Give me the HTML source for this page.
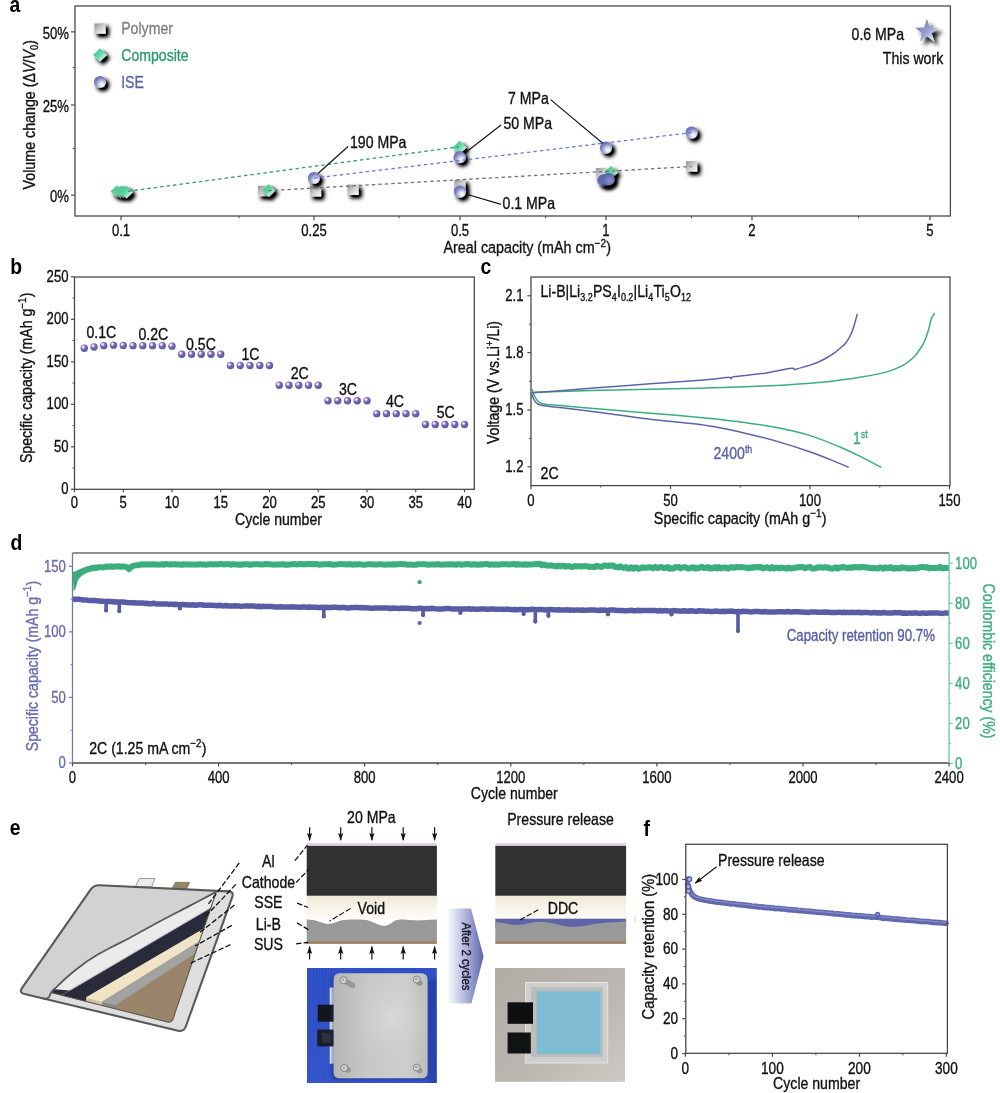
<!DOCTYPE html>
<html><head><meta charset="utf-8"><title>Figure</title>
<style>html,body{margin:0;padding:0;background:#fff;}body{width:1000px;height:1093px;overflow:hidden;}svg{display:block;will-change:transform;}text{font-family:"Liberation Sans",sans-serif;}</style></head>
<body>
<svg width="1000" height="1093" viewBox="0 0 1000 1093">
<rect x="0" y="0" width="1000" height="1093" fill="#ffffff"/>
<defs>
<filter id="sh" x="-60%" y="-60%" width="260%" height="260%">
  <feGaussianBlur in="SourceAlpha" stdDeviation="2.1"/>
  <feOffset dx="2.9" dy="3.1" result="b"/>
  <feComponentTransfer in="b" result="b2"><feFuncA type="linear" slope="1.35"/></feComponentTransfer>
  <feFlood flood-color="#000" flood-opacity="1"/>
  <feComposite in2="b2" operator="in" result="s"/>
  <feMerge><feMergeNode in="s"/><feMergeNode in="SourceGraphic"/></feMerge>
</filter>
<filter id="sh2" x="-60%" y="-60%" width="260%" height="260%">
  <feGaussianBlur in="SourceAlpha" stdDeviation="2.2"/>
  <feOffset dx="3.6" dy="3.6" result="b"/>
  <feFlood flood-color="#000" flood-opacity="0.95"/>
  <feComposite in2="b" operator="in" result="s"/>
  <feMerge><feMergeNode in="s"/><feMergeNode in="SourceGraphic"/></feMerge>
</filter>
<linearGradient id="gsq" x1="0" y1="0" x2="1" y2="1">
  <stop offset="0" stop-color="#8e8e8e"/><stop offset="0.45" stop-color="#c9c9c9"/><stop offset="1" stop-color="#ffffff"/>
</linearGradient>
<linearGradient id="gdi" x1="0.1" y1="0.1" x2="0.9" y2="0.9">
  <stop offset="0" stop-color="#35c48a"/><stop offset="0.5" stop-color="#6ad8aa"/><stop offset="1" stop-color="#f4fffa"/>
</linearGradient>
<radialGradient id="gci" cx="0.66" cy="0.72" r="0.75">
  <stop offset="0" stop-color="#ffffff"/><stop offset="0.25" stop-color="#dfe1f2"/><stop offset="0.7" stop-color="#8288c4"/><stop offset="1" stop-color="#666cb2"/>
</radialGradient>
<radialGradient id="gcd" cx="0.6" cy="0.65" r="0.8">
  <stop offset="0" stop-color="#8a8fca"/><stop offset="1" stop-color="#4f56a6"/>
</radialGradient>
<radialGradient id="gsp" cx="0.36" cy="0.34" r="0.72">
  <stop offset="0" stop-color="#ffffff"/><stop offset="0.12" stop-color="#fde6ff"/><stop offset="0.25" stop-color="#d4a0e8"/><stop offset="0.42" stop-color="#6f6db6"/><stop offset="1" stop-color="#51569e"/>
</radialGradient>
<linearGradient id="gstar" x1="0.1" y1="0.1" x2="0.9" y2="0.9">
  <stop offset="0" stop-color="#6b70b6"/><stop offset="0.55" stop-color="#9ea2d2"/><stop offset="1" stop-color="#f2f2fb"/>
</linearGradient>
<linearGradient id="garr" x1="0" y1="0" x2="1" y2="0">
  <stop offset="0" stop-color="#ffffff"/><stop offset="0.12" stop-color="#eceef7"/><stop offset="0.6" stop-color="#a3a8d2"/><stop offset="1" stop-color="#5b62ad"/>
</linearGradient>
<linearGradient id="gsse" x1="0" y1="0" x2="0" y2="1">
  <stop offset="0" stop-color="#efe9d6"/><stop offset="0.55" stop-color="#f8f5ea"/><stop offset="1" stop-color="#fdfcf8"/>
</linearGradient>
<linearGradient id="gplate" x1="0" y1="0" x2="1" y2="0">
  <stop offset="0" stop-color="#b4b6b3"/><stop offset="0.35" stop-color="#c6c8c5"/><stop offset="0.75" stop-color="#cdcfcc"/><stop offset="1" stop-color="#bcbebb"/>
</linearGradient>
<radialGradient id="gplate2" cx="0.62" cy="0.42" r="0.55">
  <stop offset="0" stop-color="#dcdedb" stop-opacity="0.75"/><stop offset="1" stop-color="#c4c6c3" stop-opacity="0"/>
</radialGradient>
<linearGradient id="gph1" x1="0" y1="0" x2="0" y2="1">
  <stop offset="0" stop-color="#2a48c0" stop-opacity="0.0"/><stop offset="1" stop-color="#4060d4" stop-opacity="0.35"/>
</linearGradient>
<filter id="bl1" x="-10%" y="-10%" width="120%" height="120%"><feGaussianBlur stdDeviation="1.6"/></filter>
<linearGradient id="gbg2" x1="0" y1="0" x2="1" y2="1">
  <stop offset="0" stop-color="#b1aca4"/><stop offset="0.6" stop-color="#bcb8b1"/><stop offset="1" stop-color="#cdcac5"/>
</linearGradient>
<marker id="ah" viewBox="0 0 14 10" refX="13" refY="5" markerWidth="8.2" markerHeight="5.6" markerUnits="userSpaceOnUse" orient="auto-start-reverse">
  <path d="M0,0.3 L14,5 L0,9.7 L2.6,5 z" fill="#111"/>
</marker>
</defs>
<rect x="75" y="6" width="875.4" height="210" fill="none" stroke="#4a4a4a" stroke-width="1.3"/>
<line x1="71.00" y1="31.90" x2="75.00" y2="31.90" stroke="#4a4a4a" stroke-width="1.2"/>
<text transform="translate(69.00,38.80) scale(0.8,1)" font-size="16.4" text-anchor="end" fill="#111" stroke="#111" stroke-width="0.35">50%</text>
<line x1="71.00" y1="105.00" x2="75.00" y2="105.00" stroke="#4a4a4a" stroke-width="1.2"/>
<text transform="translate(69.00,111.90) scale(0.8,1)" font-size="16.4" text-anchor="end" fill="#111" stroke="#111" stroke-width="0.35">25%</text>
<line x1="71.00" y1="195.10" x2="75.00" y2="195.10" stroke="#4a4a4a" stroke-width="1.2"/>
<text transform="translate(69.00,202.00) scale(0.8,1)" font-size="16.4" text-anchor="end" fill="#111" stroke="#111" stroke-width="0.35">0%</text>
<line x1="72.80" y1="67.50" x2="75.00" y2="67.50" stroke="#4a4a4a" stroke-width="1"/>
<line x1="72.80" y1="148.50" x2="75.00" y2="148.50" stroke="#4a4a4a" stroke-width="1"/>
<line x1="121.00" y1="216.00" x2="121.00" y2="220.20" stroke="#4a4a4a" stroke-width="1.2"/>
<text transform="translate(121.00,236.30) scale(0.8,1)" font-size="16.4" text-anchor="middle" fill="#111" stroke="#111" stroke-width="0.35">0.1</text>
<line x1="314.00" y1="216.00" x2="314.00" y2="220.20" stroke="#4a4a4a" stroke-width="1.2"/>
<text transform="translate(314.00,236.30) scale(0.8,1)" font-size="16.4" text-anchor="middle" fill="#111" stroke="#111" stroke-width="0.35">0.25</text>
<line x1="460.00" y1="216.00" x2="460.00" y2="220.20" stroke="#4a4a4a" stroke-width="1.2"/>
<text transform="translate(460.00,236.30) scale(0.8,1)" font-size="16.4" text-anchor="middle" fill="#111" stroke="#111" stroke-width="0.35">0.5</text>
<line x1="606.00" y1="216.00" x2="606.00" y2="220.20" stroke="#4a4a4a" stroke-width="1.2"/>
<text transform="translate(606.00,236.30) scale(0.8,1)" font-size="16.4" text-anchor="middle" fill="#111" stroke="#111" stroke-width="0.35">1</text>
<line x1="752.00" y1="216.00" x2="752.00" y2="220.20" stroke="#4a4a4a" stroke-width="1.2"/>
<text transform="translate(752.00,236.30) scale(0.8,1)" font-size="16.4" text-anchor="middle" fill="#111" stroke="#111" stroke-width="0.35">2</text>
<line x1="930.00" y1="216.00" x2="930.00" y2="220.20" stroke="#4a4a4a" stroke-width="1.2"/>
<text transform="translate(930.00,236.30) scale(0.8,1)" font-size="16.4" text-anchor="middle" fill="#111" stroke="#111" stroke-width="0.35">5</text>
<line x1="239.00" y1="216.00" x2="239.00" y2="218.20" stroke="#4a4a4a" stroke-width="1"/>
<line x1="399.00" y1="216.00" x2="399.00" y2="218.20" stroke="#4a4a4a" stroke-width="1"/>
<line x1="545.60" y1="216.00" x2="545.60" y2="218.20" stroke="#4a4a4a" stroke-width="1"/>
<line x1="691.40" y1="216.00" x2="691.40" y2="218.20" stroke="#4a4a4a" stroke-width="1"/>
<line x1="858.60" y1="216.00" x2="858.60" y2="218.20" stroke="#4a4a4a" stroke-width="1"/>
<text transform="translate(611.00,253.00) scale(0.868,1)" font-size="16.5" text-anchor="end" fill="#111" stroke="#111" stroke-width="0.35">Areal capacity (mAh cm<tspan font-size="11.5" dy="-6.4">−2</tspan><tspan font-size="1" dy="6.4"> </tspan>)</text>
<text transform="translate(34.70,114.70) rotate(-90) scale(0.865,1)" font-size="16.5" text-anchor="middle" fill="#111" stroke="#111" stroke-width="0.35">Volume change (Δ<tspan font-style="italic">V</tspan>/<tspan font-style="italic">V</tspan><tspan font-size="10.5" dy="3.5">0</tspan><tspan font-size="1" dy="-3.5"> </tspan>)</text>
<rect x="94.40" y="23.40" width="11.2" height="10.4" fill="url(#gsq)" filter="url(#sh)"/>
<path d="M93.00,54.90 L100.00,48.20 L107.00,54.90 L100.00,61.60 z" fill="url(#gdi)" filter="url(#sh)"/>
<circle cx="100.00" cy="82.00" r="6.1" fill="url(#gci)" filter="url(#sh)"/>
<text transform="translate(121.20,34.00) scale(0.855,1)" font-size="16.5" text-anchor="start" fill="#7f7f7f" stroke="#7f7f7f" stroke-width="0.35">Polymer</text>
<text transform="translate(121.20,60.60) scale(0.855,1)" font-size="16.5" text-anchor="start" fill="#2f9a6b" stroke="#2f9a6b" stroke-width="0.35">Composite</text>
<text transform="translate(121.20,87.60) scale(0.855,1)" font-size="16.5" text-anchor="start" fill="#5d63a8" stroke="#5d63a8" stroke-width="0.35">ISE</text>
<path d="M110.50,191.40 L117.00,185.20 L123.50,191.40 L117.00,197.60 z" fill="url(#gdi)" filter="url(#sh)"/>
<path d="M114.00,192.00 L120.50,185.80 L127.00,192.00 L120.50,198.20 z" fill="url(#gdi)" filter="url(#sh)"/>
<path d="M117.00,191.70 L123.50,185.50 L130.00,191.70 L123.50,197.90 z" fill="url(#gdi)" filter="url(#sh)"/>
<path d="M120.00,192.20 L126.50,186.00 L133.00,192.20 L126.50,198.40 z" fill="url(#gdi)" filter="url(#sh)"/>
<rect x="257.90" y="185.80" width="11.2" height="10.4" fill="url(#gsq)" filter="url(#sh)"/>
<path d="M262.00,190.60 L268.80,184.20 L275.60,190.60 L268.80,197.00 z" fill="url(#gdi)" filter="url(#sh)"/>
<rect x="309.90" y="186.10" width="11.2" height="10.4" fill="url(#gsq)" filter="url(#sh)"/>
<rect x="347.40" y="184.60" width="11.2" height="10.4" fill="url(#gsq)" filter="url(#sh)"/>
<circle cx="314.00" cy="178.00" r="6.1" fill="url(#gci)" filter="url(#sh)"/>
<path d="M452.60,147.40 L459.60,140.70 L466.60,147.40 L459.60,154.10 z" fill="url(#gdi)" filter="url(#sh)"/>
<circle cx="459.60" cy="157.20" r="6.1" fill="url(#gci)" filter="url(#sh)"/>
<rect x="454.40" y="179.80" width="11.2" height="10.4" fill="url(#gsq)" filter="url(#sh)"/>
<circle cx="460.00" cy="191.60" r="6.1" fill="url(#gci)" filter="url(#sh)"/>
<circle cx="606.00" cy="147.60" r="6.1" fill="url(#gci)" filter="url(#sh)"/>
<circle cx="691.60" cy="132.60" r="6.1" fill="url(#gci)" filter="url(#sh)"/>
<rect x="686.00" y="161.20" width="11.2" height="10.4" fill="url(#gsq)" filter="url(#sh)"/>
<rect x="595.90" y="168.00" width="11.2" height="10.4" fill="url(#gsq)" filter="url(#sh)"/>
<path d="M604.00,172.60 L611.00,165.90 L618.00,172.60 L611.00,179.30 z" fill="url(#gdi)" filter="url(#sh)"/>
<circle cx="603.50" cy="180.30" r="6.1" fill="url(#gcd)" filter="url(#sh)"/>
<circle cx="606.50" cy="179.80" r="6.1" fill="url(#gcd)" filter="url(#sh)"/>
<circle cx="608.50" cy="179.20" r="6.1" fill="url(#gcd)" filter="url(#sh)"/>
<line x1="128.00" y1="191.30" x2="459.00" y2="146.80" stroke="#2f9a6b" stroke-width="1.3" stroke-dasharray="3.4 3.1"/>
<line x1="314.00" y1="178.10" x2="691.60" y2="132.60" stroke="#6f74e0" stroke-width="1.3" stroke-dasharray="3.4 3.1"/>
<line x1="268.00" y1="190.70" x2="691.60" y2="166.50" stroke="#707070" stroke-width="1.3" stroke-dasharray="3.4 3.1"/>
<text transform="translate(350.00,148.40) scale(0.855,1)" font-size="16.5" text-anchor="start" fill="#111" stroke="#111" stroke-width="0.35">190 MPa</text>
<line x1="348.00" y1="146.50" x2="318.00" y2="173.50" stroke="#111" stroke-width="1.1"/>
<text transform="translate(503.40,128.80) scale(0.855,1)" font-size="16.5" text-anchor="start" fill="#111" stroke="#111" stroke-width="0.35">50 MPa</text>
<line x1="501.00" y1="125.00" x2="465.00" y2="153.00" stroke="#111" stroke-width="1.1"/>
<text transform="translate(508.00,103.80) scale(0.855,1)" font-size="16.5" text-anchor="start" fill="#111" stroke="#111" stroke-width="0.35">7 MPa</text>
<line x1="550.60" y1="99.60" x2="603.00" y2="143.50" stroke="#111" stroke-width="1.1"/>
<text transform="translate(502.60,209.20) scale(0.855,1)" font-size="16.5" text-anchor="start" fill="#111" stroke="#111" stroke-width="0.35">0.1 MPa</text>
<line x1="501.00" y1="204.40" x2="466.00" y2="194.00" stroke="#111" stroke-width="1.1"/>
<polygon points="927.00,19.00 929.94,27.55 938.98,27.71 931.76,33.15 934.41,41.79 927.00,36.60 919.59,41.79 922.24,33.15 915.02,27.71 924.06,27.55" fill="url(#gstar)" filter="url(#sh2)"/>
<text transform="translate(851.60,39.80) scale(0.855,1)" font-size="16.5" text-anchor="start" fill="#111" stroke="#111" stroke-width="0.35">0.6 MPa</text>
<text transform="translate(943.20,63.80) scale(0.855,1)" font-size="16.5" text-anchor="end" fill="#111" stroke="#111" stroke-width="0.35">This work</text>
<text transform="translate(9.40,12.30) scale(0.86,1)" font-size="22.5" text-anchor="start" fill="#000" stroke="#000" stroke-width="0" font-weight="bold">a</text>
<rect x="74.5" y="277" width="399.8" height="212.3" fill="none" stroke="#4a4a4a" stroke-width="1.3"/>
<line x1="70.90" y1="489.30" x2="74.50" y2="489.30" stroke="#4a4a4a" stroke-width="1.2"/>
<text transform="translate(68.50,494.30) scale(0.8,1)" font-size="16.4" text-anchor="end" fill="#111" stroke="#111" stroke-width="0.35">0</text>
<line x1="70.90" y1="446.80" x2="74.50" y2="446.80" stroke="#4a4a4a" stroke-width="1.2"/>
<text transform="translate(68.50,451.80) scale(0.8,1)" font-size="16.4" text-anchor="end" fill="#111" stroke="#111" stroke-width="0.35">50</text>
<line x1="70.90" y1="404.30" x2="74.50" y2="404.30" stroke="#4a4a4a" stroke-width="1.2"/>
<text transform="translate(68.50,409.30) scale(0.8,1)" font-size="16.4" text-anchor="end" fill="#111" stroke="#111" stroke-width="0.35">100</text>
<line x1="70.90" y1="361.80" x2="74.50" y2="361.80" stroke="#4a4a4a" stroke-width="1.2"/>
<text transform="translate(68.50,366.80) scale(0.8,1)" font-size="16.4" text-anchor="end" fill="#111" stroke="#111" stroke-width="0.35">150</text>
<line x1="70.90" y1="319.30" x2="74.50" y2="319.30" stroke="#4a4a4a" stroke-width="1.2"/>
<text transform="translate(68.50,324.30) scale(0.8,1)" font-size="16.4" text-anchor="end" fill="#111" stroke="#111" stroke-width="0.35">200</text>
<line x1="70.90" y1="276.80" x2="74.50" y2="276.80" stroke="#4a4a4a" stroke-width="1.2"/>
<text transform="translate(68.50,281.80) scale(0.8,1)" font-size="16.4" text-anchor="end" fill="#111" stroke="#111" stroke-width="0.35">250</text>
<line x1="72.50" y1="468.05" x2="74.50" y2="468.05" stroke="#4a4a4a" stroke-width="1"/>
<line x1="72.50" y1="425.55" x2="74.50" y2="425.55" stroke="#4a4a4a" stroke-width="1"/>
<line x1="72.50" y1="383.05" x2="74.50" y2="383.05" stroke="#4a4a4a" stroke-width="1"/>
<line x1="72.50" y1="340.55" x2="74.50" y2="340.55" stroke="#4a4a4a" stroke-width="1"/>
<line x1="72.50" y1="298.05" x2="74.50" y2="298.05" stroke="#4a4a4a" stroke-width="1"/>
<line x1="74.50" y1="489.30" x2="74.50" y2="492.30" stroke="#4a4a4a" stroke-width="1.2"/>
<text transform="translate(74.50,507.80) scale(0.8,1)" font-size="16.4" text-anchor="middle" fill="#111" stroke="#111" stroke-width="0.35">0</text>
<line x1="123.25" y1="489.30" x2="123.25" y2="492.30" stroke="#4a4a4a" stroke-width="1.2"/>
<text transform="translate(123.25,507.80) scale(0.8,1)" font-size="16.4" text-anchor="middle" fill="#111" stroke="#111" stroke-width="0.35">5</text>
<line x1="172.00" y1="489.30" x2="172.00" y2="492.30" stroke="#4a4a4a" stroke-width="1.2"/>
<text transform="translate(172.00,507.80) scale(0.8,1)" font-size="16.4" text-anchor="middle" fill="#111" stroke="#111" stroke-width="0.35">10</text>
<line x1="220.75" y1="489.30" x2="220.75" y2="492.30" stroke="#4a4a4a" stroke-width="1.2"/>
<text transform="translate(220.75,507.80) scale(0.8,1)" font-size="16.4" text-anchor="middle" fill="#111" stroke="#111" stroke-width="0.35">15</text>
<line x1="269.50" y1="489.30" x2="269.50" y2="492.30" stroke="#4a4a4a" stroke-width="1.2"/>
<text transform="translate(269.50,507.80) scale(0.8,1)" font-size="16.4" text-anchor="middle" fill="#111" stroke="#111" stroke-width="0.35">20</text>
<line x1="318.25" y1="489.30" x2="318.25" y2="492.30" stroke="#4a4a4a" stroke-width="1.2"/>
<text transform="translate(318.25,507.80) scale(0.8,1)" font-size="16.4" text-anchor="middle" fill="#111" stroke="#111" stroke-width="0.35">25</text>
<line x1="367.00" y1="489.30" x2="367.00" y2="492.30" stroke="#4a4a4a" stroke-width="1.2"/>
<text transform="translate(367.00,507.80) scale(0.8,1)" font-size="16.4" text-anchor="middle" fill="#111" stroke="#111" stroke-width="0.35">30</text>
<line x1="415.75" y1="489.30" x2="415.75" y2="492.30" stroke="#4a4a4a" stroke-width="1.2"/>
<text transform="translate(415.75,507.80) scale(0.8,1)" font-size="16.4" text-anchor="middle" fill="#111" stroke="#111" stroke-width="0.35">35</text>
<line x1="464.50" y1="489.30" x2="464.50" y2="492.30" stroke="#4a4a4a" stroke-width="1.2"/>
<text transform="translate(464.50,507.80) scale(0.8,1)" font-size="16.4" text-anchor="middle" fill="#111" stroke="#111" stroke-width="0.35">40</text>
<text transform="translate(278.50,525.00) scale(0.855,1)" font-size="16.5" text-anchor="middle" fill="#111" stroke="#111" stroke-width="0.35">Cycle number</text>
<text transform="translate(32.20,377.80) rotate(-90) scale(0.855,1)" font-size="16.5" text-anchor="middle" fill="#111" stroke="#111" stroke-width="0.35">Specific capacity (mAh g<tspan font-size="11.5" dy="-6.4">−1</tspan><tspan font-size="1" dy="6.4"> </tspan>)</text>
<circle cx="84.25" cy="348.20" r="3.7" fill="url(#gsp)"/>
<circle cx="94.00" cy="346.93" r="3.7" fill="url(#gsp)"/>
<circle cx="103.75" cy="345.65" r="3.7" fill="url(#gsp)"/>
<circle cx="113.50" cy="345.14" r="3.7" fill="url(#gsp)"/>
<circle cx="123.25" cy="345.48" r="3.7" fill="url(#gsp)"/>
<circle cx="133.00" cy="345.65" r="3.7" fill="url(#gsp)"/>
<circle cx="142.75" cy="345.65" r="3.7" fill="url(#gsp)"/>
<circle cx="152.50" cy="345.65" r="3.7" fill="url(#gsp)"/>
<circle cx="162.25" cy="345.65" r="3.7" fill="url(#gsp)"/>
<circle cx="172.00" cy="346.16" r="3.7" fill="url(#gsp)"/>
<circle cx="181.75" cy="354.32" r="3.7" fill="url(#gsp)"/>
<circle cx="191.50" cy="354.32" r="3.7" fill="url(#gsp)"/>
<circle cx="201.25" cy="354.32" r="3.7" fill="url(#gsp)"/>
<circle cx="211.00" cy="354.32" r="3.7" fill="url(#gsp)"/>
<circle cx="220.75" cy="354.32" r="3.7" fill="url(#gsp)"/>
<circle cx="230.50" cy="365.54" r="3.7" fill="url(#gsp)"/>
<circle cx="240.25" cy="365.54" r="3.7" fill="url(#gsp)"/>
<circle cx="250.00" cy="365.54" r="3.7" fill="url(#gsp)"/>
<circle cx="259.75" cy="365.54" r="3.7" fill="url(#gsp)"/>
<circle cx="269.50" cy="365.54" r="3.7" fill="url(#gsp)"/>
<circle cx="279.25" cy="385.26" r="3.7" fill="url(#gsp)"/>
<circle cx="289.00" cy="385.26" r="3.7" fill="url(#gsp)"/>
<circle cx="298.75" cy="385.26" r="3.7" fill="url(#gsp)"/>
<circle cx="308.50" cy="385.26" r="3.7" fill="url(#gsp)"/>
<circle cx="318.25" cy="385.26" r="3.7" fill="url(#gsp)"/>
<circle cx="328.00" cy="400.73" r="3.7" fill="url(#gsp)"/>
<circle cx="337.75" cy="400.73" r="3.7" fill="url(#gsp)"/>
<circle cx="347.50" cy="400.73" r="3.7" fill="url(#gsp)"/>
<circle cx="357.25" cy="400.73" r="3.7" fill="url(#gsp)"/>
<circle cx="367.00" cy="400.73" r="3.7" fill="url(#gsp)"/>
<circle cx="376.75" cy="413.65" r="3.7" fill="url(#gsp)"/>
<circle cx="386.50" cy="413.65" r="3.7" fill="url(#gsp)"/>
<circle cx="396.25" cy="413.65" r="3.7" fill="url(#gsp)"/>
<circle cx="406.00" cy="413.65" r="3.7" fill="url(#gsp)"/>
<circle cx="415.75" cy="413.65" r="3.7" fill="url(#gsp)"/>
<circle cx="425.50" cy="424.53" r="3.7" fill="url(#gsp)"/>
<circle cx="435.25" cy="424.53" r="3.7" fill="url(#gsp)"/>
<circle cx="445.00" cy="424.53" r="3.7" fill="url(#gsp)"/>
<circle cx="454.75" cy="424.53" r="3.7" fill="url(#gsp)"/>
<circle cx="464.50" cy="424.53" r="3.7" fill="url(#gsp)"/>
<text transform="translate(101.40,338.00) scale(0.855,1)" font-size="16.5" text-anchor="middle" fill="#111" stroke="#111" stroke-width="0.35">0.1C</text>
<text transform="translate(153.40,340.00) scale(0.855,1)" font-size="16.5" text-anchor="middle" fill="#111" stroke="#111" stroke-width="0.35">0.2C</text>
<text transform="translate(201.00,349.50) scale(0.855,1)" font-size="16.5" text-anchor="middle" fill="#111" stroke="#111" stroke-width="0.35">0.5C</text>
<text transform="translate(250.40,359.50) scale(0.855,1)" font-size="16.5" text-anchor="middle" fill="#111" stroke="#111" stroke-width="0.35">1C</text>
<text transform="translate(299.80,379.30) scale(0.855,1)" font-size="16.5" text-anchor="middle" fill="#111" stroke="#111" stroke-width="0.35">2C</text>
<text transform="translate(348.00,395.00) scale(0.855,1)" font-size="16.5" text-anchor="middle" fill="#111" stroke="#111" stroke-width="0.35">3C</text>
<text transform="translate(395.00,407.00) scale(0.855,1)" font-size="16.5" text-anchor="middle" fill="#111" stroke="#111" stroke-width="0.35">4C</text>
<text transform="translate(445.80,418.30) scale(0.855,1)" font-size="16.5" text-anchor="middle" fill="#111" stroke="#111" stroke-width="0.35">5C</text>
<text transform="translate(10.20,274.40) scale(0.86,1)" font-size="22.5" text-anchor="start" fill="#000" stroke="#000" stroke-width="0" font-weight="bold">b</text>
<rect x="531" y="277" width="419" height="208.60000000000002" fill="none" stroke="#4a4a4a" stroke-width="1.3"/>
<line x1="527.40" y1="295.80" x2="531.00" y2="295.80" stroke="#4a4a4a" stroke-width="1.2"/>
<text transform="translate(523.50,301.10) scale(0.8,1)" font-size="16.4" text-anchor="end" fill="#111" stroke="#111" stroke-width="0.35">2.1</text>
<line x1="527.40" y1="352.60" x2="531.00" y2="352.60" stroke="#4a4a4a" stroke-width="1.2"/>
<text transform="translate(523.50,357.90) scale(0.8,1)" font-size="16.4" text-anchor="end" fill="#111" stroke="#111" stroke-width="0.35">1.8</text>
<line x1="527.40" y1="410.00" x2="531.00" y2="410.00" stroke="#4a4a4a" stroke-width="1.2"/>
<text transform="translate(523.50,415.30) scale(0.8,1)" font-size="16.4" text-anchor="end" fill="#111" stroke="#111" stroke-width="0.35">1.5</text>
<line x1="527.40" y1="466.80" x2="531.00" y2="466.80" stroke="#4a4a4a" stroke-width="1.2"/>
<text transform="translate(523.50,472.10) scale(0.8,1)" font-size="16.4" text-anchor="end" fill="#111" stroke="#111" stroke-width="0.35">1.2</text>
<line x1="529.00" y1="324.20" x2="531.00" y2="324.20" stroke="#4a4a4a" stroke-width="1"/>
<line x1="529.00" y1="381.30" x2="531.00" y2="381.30" stroke="#4a4a4a" stroke-width="1"/>
<line x1="529.00" y1="438.40" x2="531.00" y2="438.40" stroke="#4a4a4a" stroke-width="1"/>
<line x1="531.00" y1="485.60" x2="531.00" y2="489.20" stroke="#4a4a4a" stroke-width="1.2"/>
<text transform="translate(531.00,506.40) scale(0.8,1)" font-size="16.4" text-anchor="middle" fill="#111" stroke="#111" stroke-width="0.35">0</text>
<line x1="670.50" y1="485.60" x2="670.50" y2="489.20" stroke="#4a4a4a" stroke-width="1.2"/>
<text transform="translate(670.50,506.40) scale(0.8,1)" font-size="16.4" text-anchor="middle" fill="#111" stroke="#111" stroke-width="0.35">50</text>
<line x1="810.00" y1="485.60" x2="810.00" y2="489.20" stroke="#4a4a4a" stroke-width="1.2"/>
<text transform="translate(810.00,506.40) scale(0.8,1)" font-size="16.4" text-anchor="middle" fill="#111" stroke="#111" stroke-width="0.35">100</text>
<line x1="949.50" y1="485.60" x2="949.50" y2="489.20" stroke="#4a4a4a" stroke-width="1.2"/>
<text transform="translate(949.50,506.40) scale(0.8,1)" font-size="16.4" text-anchor="middle" fill="#111" stroke="#111" stroke-width="0.35">150</text>
<line x1="600.75" y1="485.60" x2="600.75" y2="487.60" stroke="#4a4a4a" stroke-width="1"/>
<line x1="740.25" y1="485.60" x2="740.25" y2="487.60" stroke="#4a4a4a" stroke-width="1"/>
<line x1="879.75" y1="485.60" x2="879.75" y2="487.60" stroke="#4a4a4a" stroke-width="1"/>
<text transform="translate(740.20,523.80) scale(0.866,1)" font-size="16.5" text-anchor="middle" fill="#111" stroke="#111" stroke-width="0.35">Specific capacity (mAh g<tspan font-size="11.5" dy="-6.4">−1</tspan><tspan font-size="1" dy="6.4"> </tspan>)</text>
<text transform="translate(499.30,382.50) rotate(-90) scale(0.855,1)" font-size="16.5" text-anchor="middle" fill="#111" stroke="#111" stroke-width="0.35">Voltage (V vs.Li<tspan font-size="10.5" dy="-6">+</tspan><tspan font-size="1" dy="6"> </tspan>/Li)</text>
<text transform="translate(540.50,297.20) scale(0.855,1)" font-size="16.5" text-anchor="start" fill="#111" stroke="#111" stroke-width="0.35">Li-B|Li<tspan font-size="10.5" dy="3.5">3.2</tspan><tspan font-size="1" dy="-3.5"> </tspan>PS<tspan font-size="10.5" dy="3.5">4</tspan><tspan font-size="1" dy="-3.5"> </tspan>I<tspan font-size="10.5" dy="3.5">0.2</tspan><tspan font-size="1" dy="-3.5"> </tspan>|Li<tspan font-size="10.5" dy="3.5">4</tspan><tspan font-size="1" dy="-3.5"> </tspan>Ti<tspan font-size="10.5" dy="3.5">5</tspan><tspan font-size="1" dy="-3.5"> </tspan>O<tspan font-size="10.5" dy="3.5">12</tspan><tspan font-size="1" dy="-3.5"> </tspan></text>
<text transform="translate(540.60,478.80) scale(0.855,1)" font-size="16.5" text-anchor="start" fill="#111" stroke="#111" stroke-width="0.35">2C</text>
<path d="M533.5,392.3 C537.3,392.2 550.5,391.7 560.0,391.4 C569.5,391.1 587.1,390.6 600.0,390.3 C612.9,390.0 635.7,389.5 650.0,389.2 C664.3,388.9 687.3,388.6 700.0,388.3 C712.7,388.0 726.7,387.4 739.0,386.9 C751.3,386.4 772.8,385.7 785.8,384.9 C798.8,384.1 819.2,382.6 830.0,381.5 C840.8,380.4 853.0,378.5 861.2,377.1 C869.4,375.7 881.4,373.5 887.2,371.9 C893.0,370.3 898.2,367.8 901.5,366.2 C904.8,364.6 908.0,362.1 910.0,360.5 C912.0,358.9 914.4,356.6 915.8,355.0 C917.2,353.4 918.9,350.7 920.0,349.0 C921.1,347.3 922.7,345.2 923.6,343.3 C924.5,341.4 925.8,338.0 926.5,336.0 C927.2,334.0 928.1,331.5 928.8,329.0 C929.5,326.5 930.6,320.9 931.4,318.6 C932.2,316.3 934.1,314.0 934.5,313.2 " fill="none" stroke="#3aae7c" stroke-width="1.5" stroke-linejoin="round"/>
<path d="M531.3,388.0 C531.5,388.6 532.5,391.2 533.0,392.5 C533.5,393.8 534.4,395.8 535.0,397.0 C535.6,398.2 536.7,399.9 537.5,400.8 C538.3,401.7 539.4,402.5 540.5,403.0 C541.6,403.5 542.2,403.8 545.0,404.2 C547.8,404.6 552.1,404.9 560.0,405.6 C567.9,406.3 587.1,407.9 600.0,409.0 C612.9,410.1 635.7,412.0 650.0,413.2 C664.3,414.4 687.3,416.2 700.0,417.4 C712.7,418.6 727.9,420.3 739.0,421.8 C750.1,423.3 767.6,425.8 778.0,427.8 C788.4,429.8 802.9,433.3 811.8,436.1 C820.7,438.9 833.3,444.3 840.4,447.3 C847.5,450.3 855.4,454.0 861.2,456.9 C867.0,459.8 878.3,465.8 881.2,467.3 " fill="none" stroke="#3aae7c" stroke-width="1.5" stroke-linejoin="round"/>
<path d="M532.5,392.8 C533.6,392.7 530.4,392.9 540.0,392.2 C549.6,391.5 584.3,388.8 600.0,387.6 C615.7,386.4 635.7,384.9 650.0,383.8 C664.3,382.7 689.1,381.1 700.0,380.2 C710.9,379.3 721.8,378.0 726.0,377.6 C730.2,377.2 728.8,377.2 729.5,377.4 C730.2,377.6 730.6,378.8 731.2,378.7 C731.8,378.6 729.0,377.6 733.8,376.8 C738.6,376.0 756.8,374.4 765.0,373.2 C773.2,372.0 786.7,368.8 791.0,368.3 C795.3,367.8 793.9,369.6 794.9,369.6 C795.9,369.6 796.0,369.2 798.0,368.6 C800.0,368.0 806.1,366.4 809.2,365.4 C812.3,364.4 816.9,362.7 819.6,361.5 C822.3,360.3 825.8,358.3 828.0,357.0 C830.2,355.7 833.3,353.8 835.2,352.4 C837.1,351.0 839.5,348.8 841.0,347.5 C842.5,346.2 844.4,344.8 845.6,343.3 C846.8,341.8 848.6,338.7 849.5,337.0 C850.4,335.3 851.4,333.5 852.1,331.6 C852.8,329.7 853.9,326.5 854.6,324.0 C855.3,321.5 856.9,315.4 857.3,314.0 " fill="none" stroke="#5d63a8" stroke-width="1.5" stroke-linejoin="round"/>
<path d="M531.3,392.0 C531.5,392.6 532.0,395.3 532.5,396.5 C533.0,397.7 533.9,399.6 534.5,400.6 C535.1,401.6 536.1,402.8 537.0,403.4 C537.9,404.0 539.2,404.6 540.5,405.0 C541.8,405.4 543.2,405.6 546.0,406.0 C548.8,406.4 552.3,406.7 560.0,407.6 C567.7,408.5 587.1,410.9 600.0,412.6 C612.9,414.3 635.7,417.5 650.0,419.2 C664.3,420.9 689.3,423.2 700.0,424.6 C710.7,426.0 719.4,427.8 725.0,428.8 C730.6,429.8 731.4,429.9 739.0,431.7 C746.6,433.5 767.6,438.6 778.0,441.6 C788.4,444.6 803.6,449.6 811.8,452.5 C820.0,455.4 829.9,459.5 835.2,461.6 C840.5,463.7 846.8,466.5 848.7,467.3 " fill="none" stroke="#5d63a8" stroke-width="1.5" stroke-linejoin="round"/>
<text transform="translate(713.50,458.60) scale(0.855,1)" font-size="16.5" text-anchor="start" fill="#5d63a8" stroke="#5d63a8" stroke-width="0.35">2400<tspan font-size="10.5" dy="-6">th</tspan><tspan font-size="1" dy="6"> </tspan></text>
<text transform="translate(853.00,443.50) scale(0.855,1)" font-size="16.5" text-anchor="start" fill="#3aae7c" stroke="#3aae7c" stroke-width="0.35">1<tspan font-size="10.5" dy="-6">st</tspan><tspan font-size="1" dy="6"> </tspan></text>
<text transform="translate(480.40,273.80) scale(0.86,1)" font-size="22.5" text-anchor="start" fill="#000" stroke="#000" stroke-width="0" font-weight="bold">c</text>
<clipPath id="cpd"><rect x="72.5" y="553" width="876.6" height="210"/></clipPath><g clip-path="url(#cpd)">
<path d="M72.8,572 L73.5,591 L75.5,589 L78,580 L82,575 L86,572 L96,568 L96,564.5 L88,566 L80,569 L75,571.5 z" fill="#3aae7c"/>
<path d="M72.5,581.9 L74.3,579.0 L76.2,577.2 L78.0,574.9 L79.8,573.7 L81.6,572.3 L83.5,571.1 L85.3,570.5 L87.1,569.5 L88.9,569.2 L90.8,568.5 L92.6,568.1 L94.4,568.0 L96.2,568.0 L98.1,567.3 L99.9,567.2 L101.7,567.3 L103.5,567.4 L105.4,566.7 L107.2,566.5 L109.0,566.9 L110.9,566.3 L112.7,566.9 L114.5,566.5 L116.3,566.4 L118.2,566.3 L120.0,566.5 L121.8,566.8 L123.6,566.4 L125.5,566.7 L127.3,567.4 L129.1,569.1 L130.9,567.4 L132.8,565.9 L134.6,565.6 L136.4,565.3 L138.2,565.3 L140.1,564.7 L141.9,564.3 L143.7,564.5 L145.6,564.4 L147.4,564.3 L149.2,564.6 L151.0,564.5 L152.9,564.2 L154.7,564.5 L156.5,564.4 L158.3,564.7 L160.2,564.6 L162.0,564.3 L163.8,564.7 L165.6,564.1 L167.5,564.3 L169.3,564.6 L171.1,564.2 L172.9,564.4 L174.8,564.1 L176.6,564.5 L178.4,564.6 L180.2,564.5 L182.1,564.7 L183.9,564.3 L185.7,564.5 L187.6,564.5 L189.4,564.5 L191.2,564.4 L193.0,564.6 L194.9,564.7 L196.7,564.4 L198.5,564.5 L200.3,564.1 L202.2,564.5 L204.0,564.5 L205.8,564.7 L207.6,564.6 L209.5,564.2 L211.3,564.3 L213.1,564.5 L214.9,564.1 L216.8,564.4 L218.6,564.2 L220.4,564.1 L222.3,564.1 L224.1,564.6 L225.9,564.1 L227.7,564.2 L229.6,564.3 L231.4,564.7 L233.2,564.1 L235.0,564.4 L236.9,564.4 L238.7,564.7 L240.5,564.6 L242.3,564.7 L244.2,564.2 L246.0,564.3 L247.8,564.3 L249.6,564.7 L251.5,564.7 L253.3,564.2 L255.1,564.2 L257.0,564.2 L258.8,564.2 L260.6,564.4 L262.4,564.5 L264.3,564.2 L266.1,564.1 L267.9,564.3 L269.7,564.3 L271.6,564.4 L273.4,564.7 L275.2,564.5 L277.0,564.4 L278.9,564.5 L280.7,564.5 L282.5,564.1 L284.3,564.7 L286.2,564.6 L288.0,564.7 L289.8,564.6 L291.6,564.3 L293.5,564.3 L295.3,564.1 L297.1,564.5 L299.0,564.1 L300.8,564.1 L302.6,564.2 L304.4,564.2 L306.3,564.3 L308.1,564.1 L309.9,564.1 L311.7,564.2 L313.6,564.1 L315.4,564.3 L317.2,564.1 L319.0,564.7 L320.9,564.5 L322.7,564.2 L324.5,564.2 L326.3,564.3 L328.2,564.3 L330.0,564.1 L331.8,564.6 L333.7,564.7 L335.5,564.4 L337.3,564.4 L339.1,564.1 L341.0,564.1 L342.8,564.3 L344.6,564.2 L346.4,564.6 L348.3,564.2 L350.1,564.1 L351.9,564.7 L353.7,564.4 L355.6,564.2 L357.4,564.4 L359.2,564.1 L361.0,564.4 L362.9,564.7 L364.7,564.7 L366.5,564.5 L368.4,564.2 L370.2,564.3 L372.0,564.2 L373.8,564.6 L375.7,564.4 L377.5,564.6 L379.3,564.3 L381.1,564.2 L383.0,564.6 L384.8,564.7 L386.6,564.6 L388.4,564.6 L390.3,564.6 L392.1,564.6 L393.9,564.2 L395.7,564.4 L397.6,564.3 L399.4,564.1 L401.2,564.1 L403.1,564.2 L404.9,564.2 L406.7,564.5 L408.5,564.7 L410.4,564.4 L412.2,564.7 L414.0,564.7 L415.8,564.7 L417.7,564.3 L419.5,564.2 L421.3,564.2 L423.1,564.2 L425.0,564.2 L426.8,564.5 L428.6,564.7 L430.4,564.6 L432.3,564.4 L434.1,564.5 L435.9,564.6 L437.8,564.1 L439.6,564.5 L441.4,564.7 L443.2,564.6 L445.1,564.6 L446.9,564.4 L448.7,564.2 L450.5,564.6 L452.4,564.3 L454.2,564.6 L456.0,564.7 L457.8,564.3 L459.7,564.3 L461.5,564.7 L463.3,564.6 L465.1,564.2 L467.0,564.1 L468.8,564.2 L470.6,564.7 L472.4,564.6 L474.3,564.2 L476.1,564.6 L477.9,564.7 L479.8,564.5 L481.6,564.3 L483.4,564.4 L485.2,564.1 L487.1,564.1 L488.9,564.7 L490.7,564.5 L492.5,564.4 L494.4,564.7 L496.2,564.4 L498.0,564.7 L499.8,564.6 L501.7,564.2 L503.5,564.2 L505.3,564.3 L507.1,564.2 L509.0,564.5 L510.8,564.2 L512.6,564.3 L514.5,564.1 L516.3,564.7 L518.1,564.3 L519.9,564.4 L521.8,564.5 L523.6,564.7 L525.4,564.3 L527.2,564.7 L529.1,564.4 L530.9,564.4 L532.7,564.4 L534.5,564.1 L536.4,564.3 L538.2,564.0 L540.0,563.8 L541.8,565.4 L543.7,564.4 L545.5,565.1 L547.3,565.7 L549.2,565.6 L551.0,565.3 L552.8,565.8 L554.6,566.0 L556.5,566.6 L558.3,565.5 L560.1,566.3 L561.9,565.7 L563.8,565.8 L565.6,566.7 L567.4,566.2 L569.2,566.3 L571.1,566.7 L572.9,566.9 L574.7,566.1 L576.5,566.4 L578.4,566.2 L580.2,566.2 L582.0,566.5 L583.9,566.1 L585.7,566.3 L587.5,566.2 L589.3,567.0 L591.2,566.6 L593.0,566.9 L594.8,567.0 L596.6,565.8 L598.5,566.3 L600.3,567.0 L602.1,566.8 L603.9,565.5 L605.8,565.5 L607.6,566.1 L609.4,565.4 L611.2,565.7 L613.1,565.4 L614.9,566.7 L616.7,567.1 L618.5,567.5 L620.4,566.4 L622.2,567.6 L624.0,567.7 L625.9,567.0 L627.7,568.5 L629.5,568.6 L631.3,567.3 L633.2,568.6 L635.0,567.6 L636.8,567.8 L638.6,568.7 L640.5,568.4 L642.3,567.2 L644.1,567.7 L645.9,567.8 L647.8,567.5 L649.6,567.3 L651.4,567.5 L653.2,568.2 L655.1,566.9 L656.9,567.9 L658.7,567.7 L660.6,566.9 L662.4,567.5 L664.2,568.0 L666.0,567.8 L667.9,567.0 L669.7,568.7 L671.5,568.3 L673.3,568.6 L675.2,567.1 L677.0,567.4 L678.8,567.0 L680.6,568.3 L682.5,567.4 L684.3,567.1 L686.1,567.7 L687.9,568.5 L689.8,568.4 L691.6,567.4 L693.4,567.2 L695.3,568.6 L697.1,567.9 L698.9,568.2 L700.7,567.1 L702.6,567.0 L704.4,568.1 L706.2,567.7 L708.0,567.0 L709.9,568.6 L711.7,568.0 L713.5,568.3 L715.3,567.1 L717.2,568.4 L719.0,567.0 L720.8,568.5 L722.6,567.7 L724.5,567.5 L726.3,567.9 L728.1,568.6 L730.0,567.4 L731.8,567.1 L733.6,567.8 L735.4,567.3 L737.3,567.1 L739.1,567.2 L740.9,567.0 L742.7,567.3 L744.6,567.5 L746.4,567.4 L748.2,568.3 L750.0,567.4 L751.9,567.8 L753.7,567.2 L755.5,567.5 L757.3,566.9 L759.2,567.4 L761.0,566.9 L762.8,568.2 L764.6,567.9 L766.5,567.2 L768.3,567.8 L770.1,568.6 L772.0,567.1 L773.8,568.4 L775.6,567.7 L777.4,567.8 L779.3,568.4 L781.1,567.6 L782.9,567.8 L784.7,568.1 L786.6,568.7 L788.4,567.5 L790.2,568.4 L792.0,568.2 L793.9,568.0 L795.7,567.6 L797.5,567.5 L799.3,567.0 L801.2,567.1 L803.0,567.0 L804.8,568.2 L806.7,567.4 L808.5,567.2 L810.3,567.1 L812.1,568.4 L814.0,568.5 L815.8,568.1 L817.6,567.4 L819.4,567.3 L821.3,567.4 L823.1,567.7 L824.9,567.2 L826.7,567.7 L828.6,567.4 L830.4,568.6 L832.2,568.7 L834.0,567.9 L835.9,567.3 L837.7,568.6 L839.5,567.5 L841.4,567.5 L843.2,566.9 L845.0,567.6 L846.8,567.8 L848.7,567.8 L850.5,567.3 L852.3,567.8 L854.1,566.9 L856.0,567.4 L857.8,567.1 L859.6,567.6 L861.4,567.0 L863.3,566.9 L865.1,567.4 L866.9,567.3 L868.7,568.0 L870.6,567.9 L872.4,568.3 L874.2,568.1 L876.1,568.2 L877.9,568.5 L879.7,567.6 L881.5,567.5 L883.4,568.7 L885.2,567.2 L887.0,568.2 L888.8,568.1 L890.7,567.0 L892.5,568.4 L894.3,568.5 L896.1,568.0 L898.0,568.2 L899.8,568.4 L901.6,567.2 L903.4,567.8 L905.3,567.8 L907.1,568.4 L908.9,568.3 L910.7,568.4 L912.6,568.0 L914.4,568.5 L916.2,568.1 L918.1,568.1 L919.9,567.3 L921.7,567.0 L923.5,567.1 L925.4,567.5 L927.2,567.1 L929.0,568.4 L930.8,567.9 L932.7,568.0 L934.5,568.0 L936.3,568.1 L938.1,567.8 L940.0,566.9 L941.8,568.3 L943.6,568.2 L945.4,567.8 L947.3,567.9 L949.1,568.1" fill="none" stroke="#3aae7c" stroke-width="6.0" stroke-linejoin="round" stroke-linecap="butt"/>
<path d="M72.5,598.8 L74.7,599.4 L76.9,599.2 L79.1,599.3 L81.3,599.6 L83.5,600.0 L85.6,599.9 L87.8,600.3 L90.0,600.6 L92.2,600.5 L94.4,600.6 L96.6,600.8 L98.8,601.0 L101.0,601.2 L103.2,601.3 L105.4,601.4 L107.6,601.2 L109.8,601.4 L111.9,601.5 L114.1,602.0 L116.3,601.8 L118.5,602.1 L120.7,601.9 L122.9,602.0 L125.1,602.2 L127.3,602.6 L129.5,602.7 L131.7,602.8 L133.9,602.7 L136.1,602.9 L138.2,603.0 L140.4,603.1 L142.6,602.9 L144.8,603.5 L147.0,603.2 L149.2,603.7 L151.4,603.8 L153.6,603.3 L155.8,603.7 L158.0,604.0 L160.2,604.1 L162.4,603.9 L164.5,603.9 L166.7,603.9 L168.9,604.4 L171.1,604.1 L173.3,604.4 L175.5,604.2 L177.7,604.5 L179.9,604.8 L182.1,604.4 L184.3,604.8 L186.5,604.7 L188.6,605.0 L190.8,605.0 L193.0,604.7 L195.2,605.2 L197.4,605.0 L199.6,604.8 L201.8,604.8 L204.0,605.2 L206.2,605.2 L208.4,605.2 L210.6,605.2 L212.8,605.3 L214.9,605.4 L217.1,605.7 L219.3,605.3 L221.5,605.8 L223.7,605.9 L225.9,605.5 L228.1,606.0 L230.3,606.0 L232.5,606.1 L234.7,605.8 L236.9,605.9 L239.1,605.9 L241.2,606.4 L243.4,606.1 L245.6,606.1 L247.8,606.1 L250.0,606.1 L252.2,606.0 L254.4,606.1 L256.6,606.5 L258.8,606.3 L261.0,606.7 L263.2,606.3 L265.4,606.4 L267.5,606.5 L269.7,606.4 L271.9,606.5 L274.1,606.9 L276.3,606.9 L278.5,606.9 L280.7,606.8 L282.9,607.0 L285.1,607.1 L287.3,606.9 L289.5,607.0 L291.6,606.7 L293.8,607.1 L296.0,607.0 L298.2,607.2 L300.4,607.2 L302.6,607.0 L304.8,606.9 L307.0,607.4 L309.2,607.0 L311.4,607.2 L313.6,607.2 L315.8,607.2 L317.9,607.5 L320.1,607.6 L322.3,607.2 L324.5,607.5 L326.7,607.3 L328.9,607.5 L331.1,607.4 L333.3,607.3 L335.5,607.3 L337.7,607.4 L339.9,607.8 L342.1,607.6 L344.2,607.5 L346.4,607.9 L348.6,608.0 L350.8,607.7 L353.0,607.6 L355.2,607.6 L357.4,607.6 L359.6,607.8 L361.8,607.6 L364.0,607.7 L366.2,607.8 L368.4,608.0 L370.5,608.2 L372.7,608.2 L374.9,608.0 L377.1,608.0 L379.3,608.1 L381.5,608.0 L383.7,608.0 L385.9,607.9 L388.1,608.0 L390.3,608.5 L392.5,608.0 L394.7,608.2 L396.8,608.3 L399.0,608.5 L401.2,608.1 L403.4,608.2 L405.6,608.2 L407.8,608.3 L410.0,608.4 L412.2,608.7 L414.4,608.7 L416.6,608.7 L418.8,608.2 L420.9,608.2 L423.1,608.7 L425.3,608.8 L427.5,608.6 L429.7,608.7 L431.9,608.3 L434.1,608.6 L436.3,608.9 L438.5,608.9 L440.7,608.9 L442.9,609.0 L445.1,608.6 L447.2,608.6 L449.4,608.6 L451.6,608.9 L453.8,609.0 L456.0,609.1 L458.2,609.0 L460.4,609.0 L462.6,609.1 L464.8,608.9 L467.0,609.0 L469.2,608.7 L471.4,609.2 L473.5,608.9 L475.7,609.3 L477.9,609.2 L480.1,609.0 L482.3,608.9 L484.5,609.0 L486.7,609.3 L488.9,609.3 L491.1,609.0 L493.3,609.0 L495.5,609.3 L497.7,609.3 L499.8,609.2 L502.0,609.2 L504.2,609.4 L506.4,609.1 L508.6,609.3 L510.8,609.4 L513.0,609.7 L515.2,609.5 L517.4,609.7 L519.6,609.5 L521.8,609.4 L523.9,609.4 L526.1,609.8 L528.3,609.7 L530.5,609.5 L532.7,609.3 L534.9,609.6 L537.1,609.8 L539.3,609.6 L541.5,609.6 L543.7,609.8 L545.9,610.0 L548.1,609.6 L550.2,609.5 L552.4,609.7 L554.6,609.8 L556.8,609.9 L559.0,609.7 L561.2,610.1 L563.4,610.0 L565.6,609.9 L567.8,609.8 L570.0,610.2 L572.2,609.9 L574.4,610.2 L576.5,609.9 L578.7,609.9 L580.9,610.2 L583.1,610.0 L585.3,610.4 L587.5,610.1 L589.7,610.0 L591.9,610.0 L594.1,610.1 L596.3,610.3 L598.5,610.5 L600.7,610.0 L602.8,610.2 L605.0,610.1 L607.2,610.6 L609.4,610.1 L611.6,610.1 L613.8,610.1 L616.0,610.3 L618.2,610.6 L620.4,610.6 L622.6,610.6 L624.8,610.8 L626.9,610.7 L629.1,610.4 L631.3,610.3 L633.5,610.8 L635.7,610.7 L637.9,610.3 L640.1,610.7 L642.3,610.5 L644.5,610.6 L646.7,610.6 L648.9,610.5 L651.1,610.4 L653.2,610.6 L655.4,610.6 L657.6,611.0 L659.8,610.5 L662.0,611.1 L664.2,610.6 L666.4,610.7 L668.6,611.0 L670.8,611.1 L673.0,610.8 L675.2,610.6 L677.4,610.9 L679.5,610.9 L681.7,611.2 L683.9,610.8 L686.1,610.9 L688.3,611.3 L690.5,610.8 L692.7,611.0 L694.9,611.3 L697.1,611.3 L699.3,610.8 L701.5,610.9 L703.7,610.9 L705.8,611.4 L708.0,611.1 L710.2,611.4 L712.4,611.5 L714.6,611.2 L716.8,611.1 L719.0,611.6 L721.2,611.4 L723.4,611.2 L725.6,611.5 L727.8,611.3 L730.0,611.3 L732.1,611.1 L734.3,611.6 L736.5,611.7 L738.7,611.6 L740.9,611.8 L743.1,611.2 L745.3,611.4 L747.5,611.5 L749.7,611.8 L751.9,611.9 L754.1,611.5 L756.2,611.5 L758.4,611.6 L760.6,611.7 L762.8,611.9 L765.0,611.5 L767.2,611.9 L769.4,611.9 L771.6,612.0 L773.8,611.9 L776.0,611.9 L778.2,611.7 L780.4,611.7 L782.5,611.8 L784.7,612.1 L786.9,611.6 L789.1,611.7 L791.3,612.1 L793.5,611.8 L795.7,611.7 L797.9,611.7 L800.1,612.0 L802.3,611.9 L804.5,612.3 L806.7,612.3 L808.8,612.4 L811.0,612.0 L813.2,611.9 L815.4,611.9 L817.6,612.2 L819.8,612.3 L822.0,612.2 L824.2,612.1 L826.4,612.2 L828.6,612.3 L830.8,612.4 L833.0,612.5 L835.1,612.5 L837.3,612.4 L839.5,612.1 L841.7,612.6 L843.9,612.3 L846.1,612.5 L848.3,612.4 L850.5,612.6 L852.7,612.3 L854.9,612.4 L857.1,612.4 L859.2,612.3 L861.4,612.8 L863.6,612.6 L865.8,612.5 L868.0,612.6 L870.2,612.9 L872.4,612.7 L874.6,612.5 L876.8,612.9 L879.0,612.8 L881.2,613.0 L883.4,612.5 L885.5,612.8 L887.7,613.0 L889.9,613.0 L892.1,613.1 L894.3,612.6 L896.5,612.7 L898.7,612.7 L900.9,612.7 L903.1,613.2 L905.3,613.0 L907.5,613.2 L909.7,612.9 L911.8,613.2 L914.0,613.0 L916.2,612.9 L918.4,613.2 L920.6,613.4 L922.8,612.9 L925.0,613.2 L927.2,613.2 L929.4,613.0 L931.6,613.1 L933.8,613.0 L936.0,613.0 L938.1,613.1 L940.3,613.3 L942.5,613.4 L944.7,613.1 L946.9,613.0 L949.1,613.2" fill="none" stroke="#575ca4" stroke-width="5.5" stroke-linejoin="round" stroke-linecap="butt"/>
<line x1="106.1" y1="601.4" x2="106.1" y2="610.4" stroke="#575ca4" stroke-width="3.6" stroke-linecap="round"/>
<circle cx="106.1" cy="610.4" r="2.1" fill="#575ca4"/>
<line x1="119.3" y1="602.1" x2="119.3" y2="611.1" stroke="#575ca4" stroke-width="3.6" stroke-linecap="round"/>
<circle cx="119.3" cy="611.1" r="2.1" fill="#575ca4"/>
<line x1="179.9" y1="604.5" x2="179.9" y2="608.5" stroke="#575ca4" stroke-width="3.6" stroke-linecap="round"/>
<circle cx="179.9" cy="608.5" r="2.1" fill="#575ca4"/>
<line x1="323.8" y1="607.4" x2="323.8" y2="616.4" stroke="#575ca4" stroke-width="3.6" stroke-linecap="round"/>
<circle cx="323.8" cy="616.4" r="2.1" fill="#575ca4"/>
<line x1="423.1" y1="608.6" x2="423.1" y2="615.1" stroke="#575ca4" stroke-width="3.6" stroke-linecap="round"/>
<circle cx="423.1" cy="615.1" r="2.1" fill="#575ca4"/>
<line x1="460.4" y1="608.9" x2="460.4" y2="612.9" stroke="#575ca4" stroke-width="3.6" stroke-linecap="round"/>
<circle cx="460.4" cy="612.9" r="2.1" fill="#575ca4"/>
<line x1="523.6" y1="609.5" x2="523.6" y2="614.0" stroke="#575ca4" stroke-width="3.6" stroke-linecap="round"/>
<circle cx="523.6" cy="614.0" r="2.1" fill="#575ca4"/>
<line x1="535.3" y1="609.6" x2="535.3" y2="621.6" stroke="#575ca4" stroke-width="3.6" stroke-linecap="round"/>
<circle cx="535.3" cy="621.6" r="2.1" fill="#575ca4"/>
<line x1="548.4" y1="609.8" x2="548.4" y2="615.8" stroke="#575ca4" stroke-width="3.6" stroke-linecap="round"/>
<circle cx="548.4" cy="615.8" r="2.1" fill="#575ca4"/>
<line x1="608.0" y1="610.3" x2="608.0" y2="614.3" stroke="#575ca4" stroke-width="3.6" stroke-linecap="round"/>
<circle cx="608.0" cy="614.3" r="2.1" fill="#575ca4"/>
<line x1="671.5" y1="610.9" x2="671.5" y2="614.4" stroke="#575ca4" stroke-width="3.6" stroke-linecap="round"/>
<circle cx="671.5" cy="614.4" r="2.1" fill="#575ca4"/>
<line x1="738.0" y1="611.5" x2="738.0" y2="631.0" stroke="#575ca4" stroke-width="3.6" stroke-linecap="round"/>
<circle cx="738.0" cy="631.0" r="2.1" fill="#575ca4"/>
<circle cx="419.6" cy="623" r="2.1" fill="#5d63a8"/>
<circle cx="419.6" cy="582.1" r="2.2" fill="#3aae7c"/>
</g>
<line x1="72.50" y1="553.00" x2="949.10" y2="553.00" stroke="#222" stroke-width="1.1"/>
<line x1="72.50" y1="763.00" x2="949.10" y2="763.00" stroke="#4a4a4a" stroke-width="1.3"/>
<line x1="72.50" y1="553.00" x2="72.50" y2="763.00" stroke="#7479b6" stroke-width="1.3"/>
<line x1="949.10" y1="553.00" x2="949.10" y2="763.60" stroke="#70c49e" stroke-width="1.3"/>
<line x1="68.90" y1="763.00" x2="72.50" y2="763.00" stroke="#7479b6" stroke-width="1.2"/>
<text transform="translate(65.90,768.30) scale(0.8,1)" font-size="16.4" text-anchor="end" fill="#666cb0" stroke="#666cb0" stroke-width="0.35">0</text>
<line x1="68.90" y1="697.41" x2="72.50" y2="697.41" stroke="#7479b6" stroke-width="1.2"/>
<text transform="translate(65.90,702.71) scale(0.8,1)" font-size="16.4" text-anchor="end" fill="#666cb0" stroke="#666cb0" stroke-width="0.35">50</text>
<line x1="68.90" y1="631.83" x2="72.50" y2="631.83" stroke="#7479b6" stroke-width="1.2"/>
<text transform="translate(65.90,637.13) scale(0.8,1)" font-size="16.4" text-anchor="end" fill="#666cb0" stroke="#666cb0" stroke-width="0.35">100</text>
<line x1="68.90" y1="566.25" x2="72.50" y2="566.25" stroke="#7479b6" stroke-width="1.2"/>
<text transform="translate(65.90,571.54) scale(0.8,1)" font-size="16.4" text-anchor="end" fill="#666cb0" stroke="#666cb0" stroke-width="0.35">150</text>
<line x1="70.50" y1="730.21" x2="72.50" y2="730.21" stroke="#7479b6" stroke-width="1"/>
<line x1="70.50" y1="664.62" x2="72.50" y2="664.62" stroke="#7479b6" stroke-width="1"/>
<line x1="70.50" y1="599.04" x2="72.50" y2="599.04" stroke="#7479b6" stroke-width="1"/>
<line x1="949.10" y1="763.50" x2="952.70" y2="763.50" stroke="#70c49e" stroke-width="1.2"/>
<text transform="translate(955.10,768.80) scale(0.8,1)" font-size="16.4" text-anchor="start" fill="#3dac7c" stroke="#3dac7c" stroke-width="0.35">0</text>
<line x1="949.10" y1="723.44" x2="952.70" y2="723.44" stroke="#70c49e" stroke-width="1.2"/>
<text transform="translate(955.10,728.74) scale(0.8,1)" font-size="16.4" text-anchor="start" fill="#3dac7c" stroke="#3dac7c" stroke-width="0.35">20</text>
<line x1="949.10" y1="683.38" x2="952.70" y2="683.38" stroke="#70c49e" stroke-width="1.2"/>
<text transform="translate(955.10,688.68) scale(0.8,1)" font-size="16.4" text-anchor="start" fill="#3dac7c" stroke="#3dac7c" stroke-width="0.35">40</text>
<line x1="949.10" y1="643.32" x2="952.70" y2="643.32" stroke="#70c49e" stroke-width="1.2"/>
<text transform="translate(955.10,648.62) scale(0.8,1)" font-size="16.4" text-anchor="start" fill="#3dac7c" stroke="#3dac7c" stroke-width="0.35">60</text>
<line x1="949.10" y1="603.26" x2="952.70" y2="603.26" stroke="#70c49e" stroke-width="1.2"/>
<text transform="translate(955.10,608.56) scale(0.8,1)" font-size="16.4" text-anchor="start" fill="#3dac7c" stroke="#3dac7c" stroke-width="0.35">80</text>
<line x1="949.10" y1="563.20" x2="952.70" y2="563.20" stroke="#70c49e" stroke-width="1.2"/>
<text transform="translate(955.10,568.50) scale(0.8,1)" font-size="16.4" text-anchor="start" fill="#3dac7c" stroke="#3dac7c" stroke-width="0.35">100</text>
<line x1="949.10" y1="743.47" x2="951.10" y2="743.47" stroke="#70c49e" stroke-width="1"/>
<line x1="949.10" y1="703.41" x2="951.10" y2="703.41" stroke="#70c49e" stroke-width="1"/>
<line x1="949.10" y1="663.35" x2="951.10" y2="663.35" stroke="#70c49e" stroke-width="1"/>
<line x1="949.10" y1="623.29" x2="951.10" y2="623.29" stroke="#70c49e" stroke-width="1"/>
<line x1="949.10" y1="583.23" x2="951.10" y2="583.23" stroke="#70c49e" stroke-width="1"/>
<line x1="72.50" y1="763.00" x2="72.50" y2="766.40" stroke="#4a4a4a" stroke-width="1.2"/>
<text transform="translate(72.50,783.40) scale(0.8,1)" font-size="16.4" text-anchor="middle" fill="#111" stroke="#111" stroke-width="0.35">0</text>
<line x1="218.60" y1="763.00" x2="218.60" y2="766.40" stroke="#4a4a4a" stroke-width="1.2"/>
<text transform="translate(218.60,783.40) scale(0.8,1)" font-size="16.4" text-anchor="middle" fill="#111" stroke="#111" stroke-width="0.35">400</text>
<line x1="364.70" y1="763.00" x2="364.70" y2="766.40" stroke="#4a4a4a" stroke-width="1.2"/>
<text transform="translate(364.70,783.40) scale(0.8,1)" font-size="16.4" text-anchor="middle" fill="#111" stroke="#111" stroke-width="0.35">800</text>
<line x1="510.80" y1="763.00" x2="510.80" y2="766.40" stroke="#4a4a4a" stroke-width="1.2"/>
<text transform="translate(510.80,783.40) scale(0.8,1)" font-size="16.4" text-anchor="middle" fill="#111" stroke="#111" stroke-width="0.35">1200</text>
<line x1="656.90" y1="763.00" x2="656.90" y2="766.40" stroke="#4a4a4a" stroke-width="1.2"/>
<text transform="translate(656.90,783.40) scale(0.8,1)" font-size="16.4" text-anchor="middle" fill="#111" stroke="#111" stroke-width="0.35">1600</text>
<line x1="803.00" y1="763.00" x2="803.00" y2="766.40" stroke="#4a4a4a" stroke-width="1.2"/>
<text transform="translate(803.00,783.40) scale(0.8,1)" font-size="16.4" text-anchor="middle" fill="#111" stroke="#111" stroke-width="0.35">2000</text>
<line x1="949.10" y1="763.00" x2="949.10" y2="766.40" stroke="#4a4a4a" stroke-width="1.2"/>
<text transform="translate(949.10,783.40) scale(0.8,1)" font-size="16.4" text-anchor="middle" fill="#111" stroke="#111" stroke-width="0.35">2400</text>
<line x1="145.55" y1="763.00" x2="145.55" y2="765.00" stroke="#4a4a4a" stroke-width="1"/>
<line x1="291.65" y1="763.00" x2="291.65" y2="765.00" stroke="#4a4a4a" stroke-width="1"/>
<line x1="437.75" y1="763.00" x2="437.75" y2="765.00" stroke="#4a4a4a" stroke-width="1"/>
<line x1="583.85" y1="763.00" x2="583.85" y2="765.00" stroke="#4a4a4a" stroke-width="1"/>
<line x1="729.95" y1="763.00" x2="729.95" y2="765.00" stroke="#4a4a4a" stroke-width="1"/>
<line x1="876.05" y1="763.00" x2="876.05" y2="765.00" stroke="#4a4a4a" stroke-width="1"/>
<text transform="translate(514.30,798.60) scale(0.855,1)" font-size="16.5" text-anchor="middle" fill="#111" stroke="#111" stroke-width="0.35">Cycle number</text>
<text transform="translate(37.60,666.00) rotate(-90) scale(0.855,1)" font-size="16.5" text-anchor="middle" fill="#666cb0" stroke="#666cb0" stroke-width="0.35">Specific capacity (mAh g<tspan font-size="11.5" dy="-6.4">−1</tspan><tspan font-size="1" dy="6.4"> </tspan>)</text>
<text transform="translate(982.60,661.00) rotate(90) scale(0.855,1)" font-size="16.5" text-anchor="middle" fill="#3dac7c" stroke="#3dac7c" stroke-width="0.35">Coulombic efficiency (%)</text>
<text transform="translate(89.20,753.80) scale(0.855,1)" font-size="16.5" text-anchor="start" fill="#111" stroke="#111" stroke-width="0.35">2C (1.25 mA cm<tspan font-size="11.5" dy="-6.4">−2</tspan><tspan font-size="1" dy="6.4"> </tspan>)</text>
<text transform="translate(935.00,640.60) scale(0.805,1)" font-size="16.5" text-anchor="end" fill="#565da6" stroke="#565da6" stroke-width="0.35">Capacity retention 90.7%</text>
<text transform="translate(10.50,550.00) scale(0.86,1)" font-size="22.5" text-anchor="start" fill="#000" stroke="#000" stroke-width="0" font-weight="bold">d</text>
<polygon points="139.3,878.5 154.9,878.5 151.7,886.8 135.3,886.8" fill="#ececec" stroke="#8a7a90" stroke-width="0.8"/>
<polygon points="175.5,882.3 189.7,882.5 186.5,889.0 172.0,888.4" fill="#9a846a" stroke="#7a6850" stroke-width="0.8"/>
<path d="M90.4,889.8 Q93.8,884.9 99.7,885.2 L228.3,891.4 Q234.2,891.6 232.2,897.2 L185.8,1026.5 Q183.8,1032.0 178.1,1030.7 L24.5,994.0 Q18.8,992.7 22.1,987.8 z" fill="#dedede"/>
<clipPath id="cav"><polygon points="216.0,892.7 174.7,1013.8 173.1,1020.3 168.3,1022.2 51.7,992.7 48.2,987.6 107.2,907.2"/></clipPath>
<g clip-path="url(#cav)">
<polygon points="26.8,960.8 241.2,867.0 241.2,1041.2 26.8,1041.2" fill="#9a846a"/>
<polygon points="73.2,1019.5 227.8,923.5 216.2,939.5 92.2,1020.3 92.2,1041.2 73.2,1041.2" fill="#a2a2a2"/>
<polygon points="50.8,1017.8 239.2,907.7 227.8,923.5 73.2,1019.5 73.2,1041.2 50.8,1041.2" fill="#efe4c6"/>
<polygon points="28.0,1015.1 251.8,883.9 239.2,907.7 50.8,1017.8 50.8,1041.2 28.0,1041.2" fill="#2a2b3a"/>
<polygon points="26.8,934.0 222.4,867.0 251.8,883.9 28.0,1015.1" fill="#ebebeb"/>
<polygon points="50.9,988.9 69.9,990.6 86.3,997.2 86.3,1003.6 50.9,993.5" fill="#2a2b3a"/>
<polygon points="86.3,997.8 102.4,1001.9 102.4,1006.3 86.3,1002.2" fill="#cfc3a0"/>
<polygon points="102.4,1001.9 115.5,1005.3 115.5,1009.6 102.4,1006.3" fill="#8a8a8a"/>
<line x1="27.97" y1="1014.81" x2="251.77" y2="883.62" stroke="#9a86a8" stroke-width="0.6"/>
</g>
<path d="M216.0,892.7 L174.7,1013.8 Q172.6,1022.9 168.3,1022.2 L51.7,992.7" fill="none" stroke="#5f5648" stroke-width="1.1"/>
<path d="M99.7,885.2 L216.0,891.9 C211.4,894.3 198.1,901.4 188.6,906.4 C179.2,911.3 168.9,916.4 159.2,921.7 C149.4,926.9 137.7,933.6 130.0,937.7 C122.2,941.9 117.9,943.8 112.5,946.6 C107.2,949.4 102.7,951.7 97.8,954.6 C92.9,957.6 87.9,960.7 83.1,964.3 C78.2,967.8 73.0,972.0 68.6,975.8 C64.2,979.5 59.6,984.2 56.8,986.8 C54.0,989.4 53.1,990.0 52.0,991.3 C50.9,992.7 50.6,993.8 50.1,994.8 C49.6,995.8 49.3,996.6 48.8,997.2 C48.2,997.8 47.5,998.3 46.6,998.6 C45.7,998.8 43.9,998.6 43.4,998.6 L24.7,994.0 Q18.8,992.7 22.0,987.8 L90.6,889.5 Q93.8,884.9 99.7,885.2 z" fill="#d2d2d2"/>
<path d="M216.0,891.9 C211.4,894.3 198.1,901.4 188.6,906.4 C179.2,911.3 168.9,916.4 159.2,921.7 C149.4,926.9 137.7,933.6 130.0,937.7 C122.2,941.9 117.9,943.8 112.5,946.6 C107.2,949.4 102.7,951.7 97.8,954.6 C92.9,957.6 87.9,960.7 83.1,964.3 C78.2,967.8 73.0,972.0 68.6,975.8 C64.2,979.5 59.6,984.2 56.8,986.8 C54.0,989.4 53.1,990.0 52.0,991.3 C50.9,992.7 50.6,993.8 50.1,994.8 C49.6,995.8 49.3,996.6 48.8,997.2 C48.2,997.8 47.5,998.3 46.6,998.6 C45.7,998.8 43.9,998.6 43.4,998.6 " fill="none" stroke="#595959" stroke-width="1.8" stroke-linecap="round"/>
<path d="M90.4,889.8 Q93.8,884.9 99.7,885.2 L228.3,891.4 Q234.2,891.6 232.2,897.2 L185.8,1026.5 Q183.8,1032.0 178.1,1030.7 L24.5,994.0 Q18.8,992.7 22.1,987.8 z" fill="none" stroke="#595959" stroke-width="2.1" stroke-linejoin="round"/>
<line x1="239.28" y1="862.97" x2="208.47" y2="903.97" stroke="#111" stroke-width="1.3" stroke-dasharray="5.5 2.2"/>
<line x1="235.80" y1="884.41" x2="204.18" y2="917.90" stroke="#111" stroke-width="1.3" stroke-dasharray="5.5 2.2"/>
<line x1="234.46" y1="905.04" x2="199.62" y2="932.64" stroke="#111" stroke-width="1.3" stroke-dasharray="5.5 2.2"/>
<line x1="231.78" y1="925.40" x2="195.07" y2="946.03" stroke="#111" stroke-width="1.3" stroke-dasharray="5.5 2.2"/>
<line x1="230.44" y1="944.69" x2="188.91" y2="963.99" stroke="#111" stroke-width="1.3" stroke-dasharray="5.5 2.2"/>
<text transform="translate(268.40,867.40) scale(0.855,1)" font-size="16.5" text-anchor="middle" fill="#111" stroke="#111" stroke-width="0.35">Al</text>
<text transform="translate(268.40,888.00) scale(0.855,1)" font-size="16.5" text-anchor="middle" fill="#111" stroke="#111" stroke-width="0.35">Cathode</text>
<text transform="translate(268.40,908.40) scale(0.855,1)" font-size="16.5" text-anchor="middle" fill="#111" stroke="#111" stroke-width="0.35">SSE</text>
<text transform="translate(268.40,929.50) scale(0.855,1)" font-size="16.5" text-anchor="middle" fill="#111" stroke="#111" stroke-width="0.35">Li-B</text>
<text transform="translate(268.40,949.90) scale(0.855,1)" font-size="16.5" text-anchor="middle" fill="#111" stroke="#111" stroke-width="0.35">SUS</text>
<rect x="306.70" y="843.00" width="130.20" height="3.20" fill="#e2d2e3" />
<rect x="306.70" y="845.90" width="130.20" height="50.00" fill="#313131" />
<rect x="306.70" y="895.80" width="130.20" height="23.60" fill="url(#gsse)" />
<rect x="306.70" y="918.90" width="130.20" height="4.00" fill="#ffffff" />
<path d="M306.7,919.4 C308.0,919.5 312.2,919.7 314.7,920.2 C317.2,920.7 319.4,922.0 321.7,922.6 C323.9,923.2 326.0,923.9 328.2,923.9 C330.4,923.9 332.6,923.3 334.7,922.8 C336.8,922.2 338.7,921.1 340.7,920.6 C342.7,920.1 344.4,919.9 346.7,919.7 C349.0,919.5 351.8,919.5 354.7,919.5 C357.6,919.5 361.5,919.5 364.2,919.8 C366.9,920.1 368.4,920.5 370.7,921.2 C372.9,921.9 375.4,923.5 377.7,924.2 C379.9,925.0 382.2,925.7 384.2,925.7 C386.2,925.7 388.0,925.0 389.7,924.2 C391.4,923.4 392.7,921.8 394.2,921.0 C395.7,920.2 396.6,919.9 398.7,919.7 C400.8,919.5 403.4,919.7 406.7,919.8 C410.0,919.9 415.0,920.5 418.7,920.5 C422.4,920.5 425.7,920.0 428.7,919.8 C431.7,919.6 435.5,919.5 436.9,919.4  L436.9,941.4 L306.7,941.4 z" fill="#999999"/>
<rect x="306.70" y="941.10" width="130.20" height="2.80" fill="#9b8263" />
<rect x="495.30" y="843.00" width="130.80" height="3.20" fill="#e2d2e3" />
<rect x="495.30" y="845.90" width="130.80" height="50.00" fill="#313131" />
<rect x="495.30" y="895.80" width="130.80" height="23.60" fill="url(#gsse)" />
<rect x="495.30" y="918.70" width="130.80" height="9.00" fill="#5d64aa" />
<path d="M495.3,921.9 C496.6,922.1 500.6,922.5 503.3,923.0 C506.0,923.5 508.9,924.3 511.3,924.6 C513.7,924.9 515.5,925.1 517.8,925.0 C520.1,924.9 522.9,924.4 525.3,924.0 C527.7,923.6 530.0,922.8 532.3,922.4 C534.6,922.0 536.8,921.9 539.3,921.9 C541.8,921.9 544.3,921.9 547.3,922.3 C550.3,922.7 554.1,923.8 557.3,924.4 C560.5,925.0 563.5,925.8 566.3,926.2 C569.1,926.6 571.5,926.7 574.3,926.7 C577.1,926.7 580.3,926.4 583.3,926.0 C586.3,925.6 589.1,924.7 592.3,924.2 C595.5,923.7 598.8,923.2 602.3,922.9 C605.8,922.6 609.3,922.4 613.3,922.2 C617.3,922.0 624.0,921.6 626.1,921.5  L626.1,941.4 L495.3,941.4 z" fill="#999999"/>
<rect x="495.30" y="941.10" width="130.80" height="2.80" fill="#9b8263" />
<line x1="294.90" y1="860.60" x2="307.40" y2="845.20" stroke="#111" stroke-width="1.3" stroke-dasharray="5.5 2.2"/>
<line x1="296.00" y1="882.60" x2="309.20" y2="869.00" stroke="#111" stroke-width="1.3" stroke-dasharray="5.5 2.2"/>
<line x1="297.10" y1="903.10" x2="308.10" y2="907.50" stroke="#111" stroke-width="1.3" stroke-dasharray="5.5 2.2"/>
<line x1="297.10" y1="922.90" x2="308.80" y2="929.90" stroke="#111" stroke-width="1.3" stroke-dasharray="5.5 2.2"/>
<line x1="296.00" y1="943.80" x2="308.10" y2="942.50" stroke="#111" stroke-width="1.3" stroke-dasharray="5.5 2.2"/>
<line x1="309.6" y1="827.2" x2="309.6" y2="840.2" stroke="#111" stroke-width="1.2" marker-end="url(#ah)"/>
<line x1="309.6" y1="959.4" x2="309.6" y2="946.6" stroke="#111" stroke-width="1.2" marker-end="url(#ah)"/>
<line x1="340.7" y1="827.2" x2="340.7" y2="840.2" stroke="#111" stroke-width="1.2" marker-end="url(#ah)"/>
<line x1="340.7" y1="959.4" x2="340.7" y2="946.6" stroke="#111" stroke-width="1.2" marker-end="url(#ah)"/>
<line x1="371.9" y1="827.2" x2="371.9" y2="840.2" stroke="#111" stroke-width="1.2" marker-end="url(#ah)"/>
<line x1="371.9" y1="959.4" x2="371.9" y2="946.6" stroke="#111" stroke-width="1.2" marker-end="url(#ah)"/>
<line x1="403.2" y1="827.2" x2="403.2" y2="840.2" stroke="#111" stroke-width="1.2" marker-end="url(#ah)"/>
<line x1="403.2" y1="959.4" x2="403.2" y2="946.6" stroke="#111" stroke-width="1.2" marker-end="url(#ah)"/>
<line x1="434.6" y1="827.2" x2="434.6" y2="840.2" stroke="#111" stroke-width="1.2" marker-end="url(#ah)"/>
<line x1="434.6" y1="959.4" x2="434.6" y2="946.6" stroke="#111" stroke-width="1.2" marker-end="url(#ah)"/>
<text transform="translate(371.40,823.00) scale(0.855,1)" font-size="16.5" text-anchor="middle" fill="#111" stroke="#111" stroke-width="0.35">20 MPa</text>
<text transform="translate(560.50,825.00) scale(0.855,1)" font-size="16.5" text-anchor="middle" fill="#111" stroke="#111" stroke-width="0.35">Pressure release</text>
<text transform="translate(357.60,913.50) scale(0.855,1)" font-size="16.5" text-anchor="start" fill="#111" stroke="#111" stroke-width="0.35">Void</text>
<line x1="350.60" y1="908.40" x2="329.50" y2="921.10" stroke="#111" stroke-width="1.1" stroke-dasharray="5.5 2.2"/>
<text transform="translate(547.70,913.50) scale(0.855,1)" font-size="16.5" text-anchor="start" fill="#111" stroke="#111" stroke-width="0.35">DDC</text>
<line x1="538.20" y1="909.70" x2="518.00" y2="921.10" stroke="#111" stroke-width="1.1" stroke-dasharray="5.5 2.2"/>
<path d="M446.6,908.4 L471,908.4 L483.6,956.6 L471.4,1003.6 L446.6,1003.6 z" fill="url(#garr)"/>
<text transform="translate(462.20,956.40) rotate(90) scale(0.84,1)" font-size="13.5" text-anchor="middle" fill="#15152a" stroke="#15152a" stroke-width="0.35">After 2 cycles</text>
<rect x="307.00" y="968.00" width="129.40" height="115.00" fill="#3152c8" />
<line x1="307.50" y1="968.00" x2="307.50" y2="1083.00" stroke="#2b4abf" stroke-width="0.7"/>
<line x1="310.50" y1="968.00" x2="310.50" y2="1083.00" stroke="#2b4abf" stroke-width="0.7"/>
<line x1="313.50" y1="968.00" x2="313.50" y2="1083.00" stroke="#2b4abf" stroke-width="0.7"/>
<line x1="316.50" y1="968.00" x2="316.50" y2="1083.00" stroke="#2b4abf" stroke-width="0.7"/>
<line x1="319.50" y1="968.00" x2="319.50" y2="1083.00" stroke="#2b4abf" stroke-width="0.7"/>
<line x1="322.50" y1="968.00" x2="322.50" y2="1083.00" stroke="#2b4abf" stroke-width="0.7"/>
<line x1="325.50" y1="968.00" x2="325.50" y2="1083.00" stroke="#2b4abf" stroke-width="0.7"/>
<line x1="328.50" y1="968.00" x2="328.50" y2="1083.00" stroke="#2b4abf" stroke-width="0.7"/>
<line x1="331.50" y1="968.00" x2="331.50" y2="1083.00" stroke="#2b4abf" stroke-width="0.7"/>
<line x1="334.50" y1="968.00" x2="334.50" y2="1083.00" stroke="#2b4abf" stroke-width="0.7"/>
<line x1="337.50" y1="968.00" x2="337.50" y2="1083.00" stroke="#2b4abf" stroke-width="0.7"/>
<line x1="340.50" y1="968.00" x2="340.50" y2="1083.00" stroke="#2b4abf" stroke-width="0.7"/>
<line x1="343.50" y1="968.00" x2="343.50" y2="1083.00" stroke="#2b4abf" stroke-width="0.7"/>
<line x1="346.50" y1="968.00" x2="346.50" y2="1083.00" stroke="#2b4abf" stroke-width="0.7"/>
<line x1="349.50" y1="968.00" x2="349.50" y2="1083.00" stroke="#2b4abf" stroke-width="0.7"/>
<line x1="352.50" y1="968.00" x2="352.50" y2="1083.00" stroke="#2b4abf" stroke-width="0.7"/>
<line x1="355.50" y1="968.00" x2="355.50" y2="1083.00" stroke="#2b4abf" stroke-width="0.7"/>
<line x1="358.50" y1="968.00" x2="358.50" y2="1083.00" stroke="#2b4abf" stroke-width="0.7"/>
<line x1="361.50" y1="968.00" x2="361.50" y2="1083.00" stroke="#2b4abf" stroke-width="0.7"/>
<line x1="364.50" y1="968.00" x2="364.50" y2="1083.00" stroke="#2b4abf" stroke-width="0.7"/>
<line x1="367.50" y1="968.00" x2="367.50" y2="1083.00" stroke="#2b4abf" stroke-width="0.7"/>
<line x1="370.50" y1="968.00" x2="370.50" y2="1083.00" stroke="#2b4abf" stroke-width="0.7"/>
<line x1="373.50" y1="968.00" x2="373.50" y2="1083.00" stroke="#2b4abf" stroke-width="0.7"/>
<line x1="376.50" y1="968.00" x2="376.50" y2="1083.00" stroke="#2b4abf" stroke-width="0.7"/>
<line x1="379.50" y1="968.00" x2="379.50" y2="1083.00" stroke="#2b4abf" stroke-width="0.7"/>
<line x1="382.50" y1="968.00" x2="382.50" y2="1083.00" stroke="#2b4abf" stroke-width="0.7"/>
<line x1="385.50" y1="968.00" x2="385.50" y2="1083.00" stroke="#2b4abf" stroke-width="0.7"/>
<line x1="388.50" y1="968.00" x2="388.50" y2="1083.00" stroke="#2b4abf" stroke-width="0.7"/>
<line x1="391.50" y1="968.00" x2="391.50" y2="1083.00" stroke="#2b4abf" stroke-width="0.7"/>
<line x1="394.50" y1="968.00" x2="394.50" y2="1083.00" stroke="#2b4abf" stroke-width="0.7"/>
<line x1="397.50" y1="968.00" x2="397.50" y2="1083.00" stroke="#2b4abf" stroke-width="0.7"/>
<line x1="400.50" y1="968.00" x2="400.50" y2="1083.00" stroke="#2b4abf" stroke-width="0.7"/>
<line x1="403.50" y1="968.00" x2="403.50" y2="1083.00" stroke="#2b4abf" stroke-width="0.7"/>
<line x1="406.50" y1="968.00" x2="406.50" y2="1083.00" stroke="#2b4abf" stroke-width="0.7"/>
<line x1="409.50" y1="968.00" x2="409.50" y2="1083.00" stroke="#2b4abf" stroke-width="0.7"/>
<line x1="412.50" y1="968.00" x2="412.50" y2="1083.00" stroke="#2b4abf" stroke-width="0.7"/>
<line x1="415.50" y1="968.00" x2="415.50" y2="1083.00" stroke="#2b4abf" stroke-width="0.7"/>
<line x1="418.50" y1="968.00" x2="418.50" y2="1083.00" stroke="#2b4abf" stroke-width="0.7"/>
<line x1="421.50" y1="968.00" x2="421.50" y2="1083.00" stroke="#2b4abf" stroke-width="0.7"/>
<line x1="424.50" y1="968.00" x2="424.50" y2="1083.00" stroke="#2b4abf" stroke-width="0.7"/>
<line x1="427.50" y1="968.00" x2="427.50" y2="1083.00" stroke="#2b4abf" stroke-width="0.7"/>
<line x1="430.50" y1="968.00" x2="430.50" y2="1083.00" stroke="#2b4abf" stroke-width="0.7"/>
<line x1="433.50" y1="968.00" x2="433.50" y2="1083.00" stroke="#2b4abf" stroke-width="0.7"/>
<line x1="436.50" y1="968.00" x2="436.50" y2="1083.00" stroke="#2b4abf" stroke-width="0.7"/>
<rect x="307" y="968" width="129.4" height="115" fill="url(#gph1)"/>
<clipPath id="cph1"><rect x="307" y="968" width="129.4" height="115"/></clipPath><g clip-path="url(#cph1)"><rect x="428" y="980" width="12" height="110" fill="#16226e" opacity="0.3" filter="url(#bl1)"/></g>
<rect x="329.7" y="987.5" width="5" height="76.2" fill="#eef0f6"/>
<rect x="317.7" y="1004.7" width="17" height="17" fill="#14151c"/>
<rect x="317.2" y="1029.6" width="17.4" height="16.8" fill="#1b1d26"/>
<rect x="322" y="1033" width="9" height="10" fill="#3a3d4a" opacity="0.6"/>
<rect x="331.4" y="975.2" width="96" height="105" rx="6" fill="#1c2a7a" opacity="0.45" filter="url(#bl1)"/>
<rect x="333.6" y="973.3" width="94" height="105" rx="5.5" fill="url(#gplate)"/>
<rect x="333.6" y="973.3" width="94" height="105" rx="5.5" fill="url(#gplate2)"/>
<line x1="343.5" y1="980.3" x2="352.5" y2="985.3" stroke="#8f918f" stroke-width="5.5" stroke-linecap="round" opacity="0.85"/>
<circle cx="343.5" cy="980.3" r="3.5" fill="#cfd0ce" stroke="#7f817f" stroke-width="0.9"/>
<circle cx="343.0" cy="979.8" r="1.1" fill="#9a9c9a"/>
<line x1="416.7" y1="979.6" x2="419.7" y2="983.1" stroke="#8f918f" stroke-width="5.5" stroke-linecap="round" opacity="0.85"/>
<circle cx="416.7" cy="979.6" r="3.5" fill="#cfd0ce" stroke="#7f817f" stroke-width="0.9"/>
<circle cx="416.2" cy="979.1" r="1.1" fill="#9a9c9a"/>
<line x1="344.2" y1="1068" x2="348.2" y2="1070" stroke="#8f918f" stroke-width="5.5" stroke-linecap="round" opacity="0.85"/>
<circle cx="344.2" cy="1068" r="3.5" fill="#cfd0ce" stroke="#7f817f" stroke-width="0.9"/>
<circle cx="343.7" cy="1067.5" r="1.1" fill="#9a9c9a"/>
<line x1="416.7" y1="1067.6" x2="419.7" y2="1070.6" stroke="#8f918f" stroke-width="5.5" stroke-linecap="round" opacity="0.85"/>
<circle cx="416.7" cy="1067.6" r="3.5" fill="#cfd0ce" stroke="#7f817f" stroke-width="0.9"/>
<circle cx="416.2" cy="1067.1" r="1.1" fill="#9a9c9a"/>
<rect x="495.00" y="968.00" width="130.00" height="113.80" fill="url(#gbg2)" />
<rect x="525.7" y="982.5" width="82" height="80.5" fill="#cfcfcd"/>
<rect x="525.7" y="982.5" width="82" height="80.5" fill="none" stroke="#e6e6e4" stroke-width="1"/>
<rect x="531" y="987" width="72" height="70" fill="#bdbebc"/>
<rect x="536.6" y="991.2" width="63.8" height="63" fill="#7fbbd3"/>
<rect x="507.6" y="1002.3" width="25.4" height="21.5" fill="#0e0f11"/>
<rect x="507.6" y="1032.5" width="23.2" height="21" fill="#111214"/>
<path d="M687.6,884.4 L688.9,888.5 L690.2,891.6 L691.5,893.7 L692.8,895.6 L694.1,896.6 L695.4,897.2 L696.7,897.9 L698.0,898.5 L699.3,899.0 L700.6,899.4 L701.9,899.4 L703.2,899.7 L704.5,900.2 L705.8,900.3 L707.1,900.5 L708.5,900.7 L709.8,901.2 L711.1,901.1 L712.4,901.4 L713.7,901.5 L715.0,901.7 L716.3,902.1 L717.6,902.3 L718.9,902.2 L720.2,902.3 L721.5,902.7 L722.8,902.6 L724.1,902.7 L725.4,903.3 L726.7,903.2 L728.0,903.5 L729.3,903.5 L730.6,903.9 L731.9,903.8 L733.2,903.8 L734.6,903.9 L735.9,904.3 L737.2,904.5 L738.5,904.8 L739.8,904.5 L741.1,904.9 L742.4,904.9 L743.7,905.1 L745.0,905.1 L746.3,905.3 L747.6,905.6 L748.9,905.9 L750.2,905.6 L751.5,906.0 L752.8,906.3 L754.1,906.5 L755.4,906.2 L756.7,906.3 L758.0,906.9 L759.4,907.0 L760.7,906.9 L762.0,906.8 L763.3,907.4 L764.6,907.2 L765.9,907.6 L767.2,907.6 L768.5,907.8 L769.8,907.6 L771.1,908.1 L772.4,907.9 L773.7,908.1 L775.0,908.5 L776.3,908.6 L777.6,908.4 L778.9,908.5 L780.2,908.7 L781.5,908.9 L782.8,909.0 L784.1,909.0 L785.4,909.1 L786.8,909.5 L788.1,909.7 L789.4,909.4 L790.7,909.8 L792.0,910.0 L793.3,909.8 L794.6,910.3 L795.9,910.0 L797.2,910.4 L798.5,910.5 L799.8,910.7 L801.1,910.6 L802.4,910.8 L803.7,911.0 L805.0,911.0 L806.3,911.3 L807.6,911.3 L808.9,911.4 L810.2,911.3 L811.5,911.7 L812.9,911.8 L814.2,911.7 L815.5,912.1 L816.8,912.3 L818.1,912.2 L819.4,912.2 L820.7,912.5 L822.0,912.4 L823.3,912.5 L824.6,912.8 L825.9,912.7 L827.2,913.0 L828.5,913.2 L829.8,913.0 L831.1,913.5 L832.4,913.3 L833.7,913.7 L835.0,913.9 L836.3,913.9 L837.6,913.7 L839.0,914.1 L840.3,914.1 L841.6,914.5 L842.9,914.2 L844.2,914.7 L845.5,914.9 L846.8,914.9 L848.1,915.0 L849.4,914.8 L850.7,915.4 L852.0,915.2 L853.3,915.6 L854.6,915.7 L855.9,915.4 L857.2,915.8 L858.5,916.0 L859.8,915.7 L861.1,916.0 L862.4,916.3 L863.8,916.1 L865.1,916.6 L866.4,916.4 L867.7,916.8 L869.0,916.5 L870.3,916.8 L871.6,917.2 L872.9,916.9 L874.2,917.1 L875.5,917.3 L876.8,917.3 L878.1,917.3 L879.4,917.5 L880.7,917.6 L882.0,918.1 L883.3,918.1 L884.6,918.3 L885.9,918.0 L887.2,918.5 L888.5,918.2 L889.8,918.6 L891.2,918.7 L892.5,918.7 L893.8,919.1 L895.1,919.0 L896.4,919.1 L897.7,919.4 L899.0,919.1 L900.3,919.7 L901.6,919.6 L902.9,919.6 L904.2,919.9 L905.5,919.8 L906.8,920.3 L908.1,920.2 L909.4,920.2 L910.7,920.5 L912.0,920.4 L913.3,920.4 L914.6,920.8 L916.0,920.6 L917.3,921.1 L918.6,920.9 L919.9,921.2 L921.2,921.5 L922.5,921.4 L923.8,921.6 L925.1,921.5 L926.4,921.5 L927.7,921.6 L929.0,921.8 L930.3,922.1 L931.6,922.1 L932.9,922.3 L934.2,922.6 L935.5,922.3 L936.8,922.5 L938.1,922.8 L939.4,922.6 L940.7,922.7 L942.0,923.0 L943.4,923.0 L944.7,923.2 L946.0,923.3" fill="none" stroke="#6168b0" stroke-width="5.6" stroke-linejoin="round" stroke-linecap="round"/>
<path d="M687.6,884.4 L688.9,888.5 L690.2,891.6 L691.5,893.7 L692.8,895.6 L694.1,896.6 L695.4,897.2 L696.7,897.9 L698.0,898.5 L699.3,899.0 L700.6,899.4 L701.9,899.4 L703.2,899.7 L704.5,900.2 L705.8,900.3 L707.1,900.5 L708.5,900.7 L709.8,901.2 L711.1,901.1 L712.4,901.4 L713.7,901.5 L715.0,901.7 L716.3,902.1 L717.6,902.3 L718.9,902.2 L720.2,902.3 L721.5,902.7 L722.8,902.6 L724.1,902.7 L725.4,903.3 L726.7,903.2 L728.0,903.5 L729.3,903.5 L730.6,903.9 L731.9,903.8 L733.2,903.8 L734.6,903.9 L735.9,904.3 L737.2,904.5 L738.5,904.8 L739.8,904.5 L741.1,904.9 L742.4,904.9 L743.7,905.1 L745.0,905.1 L746.3,905.3 L747.6,905.6 L748.9,905.9 L750.2,905.6 L751.5,906.0 L752.8,906.3 L754.1,906.5 L755.4,906.2 L756.7,906.3 L758.0,906.9 L759.4,907.0 L760.7,906.9 L762.0,906.8 L763.3,907.4 L764.6,907.2 L765.9,907.6 L767.2,907.6 L768.5,907.8 L769.8,907.6 L771.1,908.1 L772.4,907.9 L773.7,908.1 L775.0,908.5 L776.3,908.6 L777.6,908.4 L778.9,908.5 L780.2,908.7 L781.5,908.9 L782.8,909.0 L784.1,909.0 L785.4,909.1 L786.8,909.5 L788.1,909.7 L789.4,909.4 L790.7,909.8 L792.0,910.0 L793.3,909.8 L794.6,910.3 L795.9,910.0 L797.2,910.4 L798.5,910.5 L799.8,910.7 L801.1,910.6 L802.4,910.8 L803.7,911.0 L805.0,911.0 L806.3,911.3 L807.6,911.3 L808.9,911.4 L810.2,911.3 L811.5,911.7 L812.9,911.8 L814.2,911.7 L815.5,912.1 L816.8,912.3 L818.1,912.2 L819.4,912.2 L820.7,912.5 L822.0,912.4 L823.3,912.5 L824.6,912.8 L825.9,912.7 L827.2,913.0 L828.5,913.2 L829.8,913.0 L831.1,913.5 L832.4,913.3 L833.7,913.7 L835.0,913.9 L836.3,913.9 L837.6,913.7 L839.0,914.1 L840.3,914.1 L841.6,914.5 L842.9,914.2 L844.2,914.7 L845.5,914.9 L846.8,914.9 L848.1,915.0 L849.4,914.8 L850.7,915.4 L852.0,915.2 L853.3,915.6 L854.6,915.7 L855.9,915.4 L857.2,915.8 L858.5,916.0 L859.8,915.7 L861.1,916.0 L862.4,916.3 L863.8,916.1 L865.1,916.6 L866.4,916.4 L867.7,916.8 L869.0,916.5 L870.3,916.8 L871.6,917.2 L872.9,916.9 L874.2,917.1 L875.5,917.3 L876.8,917.3 L878.1,917.3 L879.4,917.5 L880.7,917.6 L882.0,918.1 L883.3,918.1 L884.6,918.3 L885.9,918.0 L887.2,918.5 L888.5,918.2 L889.8,918.6 L891.2,918.7 L892.5,918.7 L893.8,919.1 L895.1,919.0 L896.4,919.1 L897.7,919.4 L899.0,919.1 L900.3,919.7 L901.6,919.6 L902.9,919.6 L904.2,919.9 L905.5,919.8 L906.8,920.3 L908.1,920.2 L909.4,920.2 L910.7,920.5 L912.0,920.4 L913.3,920.4 L914.6,920.8 L916.0,920.6 L917.3,921.1 L918.6,920.9 L919.9,921.2 L921.2,921.5 L922.5,921.4 L923.8,921.6 L925.1,921.5 L926.4,921.5 L927.7,921.6 L929.0,921.8 L930.3,922.1 L931.6,922.1 L932.9,922.3 L934.2,922.6 L935.5,922.3 L936.8,922.5 L938.1,922.8 L939.4,922.6 L940.7,922.7 L942.0,923.0 L943.4,923.0 L944.7,923.2 L946.0,923.3" fill="none" stroke="#8d93cc" stroke-width="1.2" transform="translate(0,-0.8)" stroke-linejoin="round" opacity="0.8"/>
<circle cx="688.3" cy="879.3" r="2.3" fill="#aeb2de" stroke="#5a61ac" stroke-width="1.3"/>
<circle cx="689.4" cy="879.3" r="2.3" fill="#aeb2de" stroke="#5a61ac" stroke-width="1.3"/>
<circle cx="688.4" cy="886.6" r="2.3" fill="#aeb2de" stroke="#5a61ac" stroke-width="1.3"/>
<circle cx="688.6" cy="891" r="2.3" fill="#aeb2de" stroke="#5a61ac" stroke-width="1.3"/>
<circle cx="877.6" cy="914.4" r="2.0" fill="#8d93cc" stroke="#5a61ac" stroke-width="1.2"/>
<rect x="685.8" y="844.3" width="261.6" height="209.0" fill="none" stroke="#4a4a4a" stroke-width="1.3"/>
<line x1="682.20" y1="1053.50" x2="685.80" y2="1053.50" stroke="#4a4a4a" stroke-width="1.2"/>
<text transform="translate(678.20,1058.90) scale(0.83,1)" font-size="16.4" text-anchor="end" fill="#111" stroke="#111" stroke-width="0.35">0</text>
<line x1="682.20" y1="1018.69" x2="685.80" y2="1018.69" stroke="#4a4a4a" stroke-width="1.2"/>
<text transform="translate(678.20,1024.09) scale(0.83,1)" font-size="16.4" text-anchor="end" fill="#111" stroke="#111" stroke-width="0.35">20</text>
<line x1="682.20" y1="983.88" x2="685.80" y2="983.88" stroke="#4a4a4a" stroke-width="1.2"/>
<text transform="translate(678.20,989.28) scale(0.83,1)" font-size="16.4" text-anchor="end" fill="#111" stroke="#111" stroke-width="0.35">40</text>
<line x1="682.20" y1="949.07" x2="685.80" y2="949.07" stroke="#4a4a4a" stroke-width="1.2"/>
<text transform="translate(678.20,954.47) scale(0.83,1)" font-size="16.4" text-anchor="end" fill="#111" stroke="#111" stroke-width="0.35">60</text>
<line x1="682.20" y1="914.26" x2="685.80" y2="914.26" stroke="#4a4a4a" stroke-width="1.2"/>
<text transform="translate(678.20,919.66) scale(0.83,1)" font-size="16.4" text-anchor="end" fill="#111" stroke="#111" stroke-width="0.35">80</text>
<line x1="682.20" y1="879.45" x2="685.80" y2="879.45" stroke="#4a4a4a" stroke-width="1.2"/>
<text transform="translate(678.20,884.85) scale(0.83,1)" font-size="16.4" text-anchor="end" fill="#111" stroke="#111" stroke-width="0.35">100</text>
<line x1="683.80" y1="1036.10" x2="685.80" y2="1036.10" stroke="#4a4a4a" stroke-width="1"/>
<line x1="683.80" y1="1001.28" x2="685.80" y2="1001.28" stroke="#4a4a4a" stroke-width="1"/>
<line x1="683.80" y1="966.48" x2="685.80" y2="966.48" stroke="#4a4a4a" stroke-width="1"/>
<line x1="683.80" y1="931.66" x2="685.80" y2="931.66" stroke="#4a4a4a" stroke-width="1"/>
<line x1="683.80" y1="896.86" x2="685.80" y2="896.86" stroke="#4a4a4a" stroke-width="1"/>
<line x1="685.40" y1="1053.30" x2="685.40" y2="1056.70" stroke="#4a4a4a" stroke-width="1.2"/>
<text transform="translate(685.40,1074.40) scale(0.83,1)" font-size="16.4" text-anchor="middle" fill="#111" stroke="#111" stroke-width="0.35">0</text>
<line x1="772.40" y1="1053.30" x2="772.40" y2="1056.70" stroke="#4a4a4a" stroke-width="1.2"/>
<text transform="translate(772.40,1074.40) scale(0.83,1)" font-size="16.4" text-anchor="middle" fill="#111" stroke="#111" stroke-width="0.35">100</text>
<line x1="859.40" y1="1053.30" x2="859.40" y2="1056.70" stroke="#4a4a4a" stroke-width="1.2"/>
<text transform="translate(859.40,1074.40) scale(0.83,1)" font-size="16.4" text-anchor="middle" fill="#111" stroke="#111" stroke-width="0.35">200</text>
<line x1="946.40" y1="1053.30" x2="946.40" y2="1056.70" stroke="#4a4a4a" stroke-width="1.2"/>
<text transform="translate(946.40,1074.40) scale(0.83,1)" font-size="16.4" text-anchor="middle" fill="#111" stroke="#111" stroke-width="0.35">300</text>
<line x1="728.90" y1="1053.30" x2="728.90" y2="1055.30" stroke="#4a4a4a" stroke-width="1"/>
<line x1="815.90" y1="1053.30" x2="815.90" y2="1055.30" stroke="#4a4a4a" stroke-width="1"/>
<line x1="902.90" y1="1053.30" x2="902.90" y2="1055.30" stroke="#4a4a4a" stroke-width="1"/>
<text transform="translate(816.60,1088.80) scale(0.855,1)" font-size="16.5" text-anchor="middle" fill="#111" stroke="#111" stroke-width="0.35">Cycle number</text>
<text transform="translate(654.40,946.60) rotate(-90) scale(0.893,1)" font-size="16.5" text-anchor="middle" fill="#111" stroke="#111" stroke-width="0.35">Capacity retention (%)</text>
<text transform="translate(718.00,865.60) scale(0.855,1)" font-size="16.5" text-anchor="start" fill="#111" stroke="#111" stroke-width="0.35">Pressure release</text>
<line x1="716.6" y1="866.8" x2="695.2" y2="883.2" stroke="#111" stroke-width="1.1" marker-end="url(#ah)"/>
<rect x="634.6" y="917" width="1" height="5" fill="#c9cbe6"/>
<text transform="translate(643.60,836.40) scale(0.86,1)" font-size="22.5" text-anchor="start" fill="#000" stroke="#000" stroke-width="0" font-weight="bold">f</text>
<text transform="translate(9.80,834.80) scale(0.86,1)" font-size="22.5" text-anchor="start" fill="#000" stroke="#000" stroke-width="0" font-weight="bold">e</text>
</svg>
</body></html>
